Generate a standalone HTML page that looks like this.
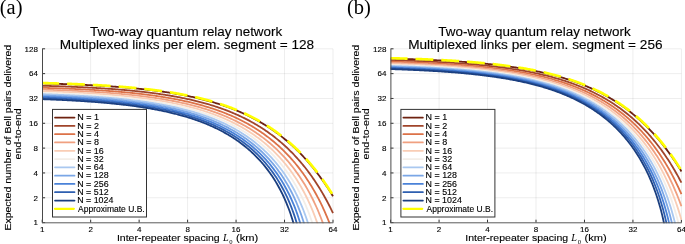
<!DOCTYPE html>
<html><head><meta charset="utf-8"><style>
html,body{margin:0;padding:0;background:#fff;}
svg{display:block;will-change:transform;font-family:"Liberation Sans",sans-serif;}
text{stroke:#000;stroke-width:0.12px;}
text.s{stroke:none;}
</style></head><body>
<svg width="685" height="244" viewBox="0 0 685 244">
<defs><clipPath id="clip"><rect x="40.70" y="47.80" width="293.80" height="175.40"/></clipPath></defs>
<rect width="685" height="244" fill="#fff"/>
<g><g stroke="#000" stroke-opacity="0.07" stroke-width="1"><line x1="90.67" y1="48.80" x2="90.67" y2="222.60"/><line x1="139.13" y1="48.80" x2="139.13" y2="222.60"/><line x1="187.60" y1="48.80" x2="187.60" y2="222.60"/><line x1="236.07" y1="48.80" x2="236.07" y2="222.60"/><line x1="284.53" y1="48.80" x2="284.53" y2="222.60"/><line x1="333.00" y1="48.80" x2="333.00" y2="222.60"/><line x1="42.20" y1="197.77" x2="333.00" y2="197.77"/><line x1="42.20" y1="172.94" x2="333.00" y2="172.94"/><line x1="42.20" y1="148.11" x2="333.00" y2="148.11"/><line x1="42.20" y1="123.29" x2="333.00" y2="123.29"/><line x1="42.20" y1="98.46" x2="333.00" y2="98.46"/><line x1="42.20" y1="73.63" x2="333.00" y2="73.63"/><line x1="42.20" y1="48.80" x2="333.00" y2="48.80"/></g>
<g stroke="#333" stroke-width="1"><line x1="42.20" y1="222.60" x2="42.20" y2="219.70"/><line x1="90.67" y1="222.60" x2="90.67" y2="219.70"/><line x1="139.13" y1="222.60" x2="139.13" y2="219.70"/><line x1="187.60" y1="222.60" x2="187.60" y2="219.70"/><line x1="236.07" y1="222.60" x2="236.07" y2="219.70"/><line x1="284.53" y1="222.60" x2="284.53" y2="219.70"/><line x1="333.00" y1="222.60" x2="333.00" y2="219.70"/><line x1="42.20" y1="222.60" x2="45.10" y2="222.60"/><line x1="42.20" y1="197.77" x2="45.10" y2="197.77"/><line x1="42.20" y1="172.94" x2="45.10" y2="172.94"/><line x1="42.20" y1="148.11" x2="45.10" y2="148.11"/><line x1="42.20" y1="123.29" x2="45.10" y2="123.29"/><line x1="42.20" y1="98.46" x2="45.10" y2="98.46"/><line x1="42.20" y1="73.63" x2="45.10" y2="73.63"/><line x1="42.20" y1="48.80" x2="45.10" y2="48.80"/></g>
<g clip-path="url(#clip)" fill="none" stroke-linejoin="round">
<path d="M42.20,83.41 L43.17,83.44 L44.14,83.46 L45.11,83.49 L46.08,83.51 L47.05,83.54 L48.02,83.57 L48.99,83.60 L49.95,83.62 L50.92,83.65 L51.89,83.68 L52.86,83.71 L53.83,83.74 L54.80,83.77 L55.77,83.80 L56.74,83.83 L57.71,83.86 L58.68,83.89 L59.65,83.92 L60.62,83.95 L61.59,83.98 L62.56,84.02 L63.53,84.05 L64.49,84.09 L65.46,84.12 L66.43,84.15 L67.40,84.19 L68.37,84.23 L69.34,84.26 L70.31,84.30 L71.28,84.34 L72.25,84.37 L73.22,84.41 L74.19,84.45 L75.16,84.49 L76.13,84.53 L77.10,84.57 L78.07,84.61 L79.03,84.65 L80.00,84.70 L80.97,84.74 L81.94,84.78 L82.91,84.83 L83.88,84.87 L84.85,84.92 L85.82,84.96 L86.79,85.01 L87.76,85.06 L88.73,85.11 L89.70,85.15 L90.67,85.20 L91.64,85.25 L92.61,85.30 L93.57,85.36 L94.54,85.41 L95.51,85.46 L96.48,85.51 L97.45,85.57 L98.42,85.62 L99.39,85.68 L100.36,85.74 L101.33,85.79 L102.30,85.85 L103.27,85.91 L104.24,85.97 L105.21,86.03 L106.18,86.09 L107.15,86.16 L108.11,86.22 L109.08,86.28 L110.05,86.35 L111.02,86.41 L111.99,86.48 L112.96,86.55 L113.93,86.62 L114.90,86.69 L115.87,86.76 L116.84,86.83 L117.81,86.90 L118.78,86.98 L119.75,87.05 L120.72,87.13 L121.69,87.20 L122.65,87.28 L123.62,87.36 L124.59,87.44 L125.56,87.52 L126.53,87.60 L127.50,87.69 L128.47,87.77 L129.44,87.86 L130.41,87.95 L131.38,88.03 L132.35,88.12 L133.32,88.21 L134.29,88.31 L135.26,88.40 L136.23,88.49 L137.19,88.59 L138.16,88.69 L139.13,88.79 L140.10,88.89 L141.07,88.99 L142.04,89.09 L143.01,89.19 L143.98,89.30 L144.95,89.41 L145.92,89.52 L146.89,89.63 L147.86,89.74 L148.83,89.85 L149.80,89.97 L150.77,90.08 L151.73,90.20 L152.70,90.32 L153.67,90.44 L154.64,90.56 L155.61,90.69 L156.58,90.82 L157.55,90.94 L158.52,91.07 L159.49,91.21 L160.46,91.34 L161.43,91.48 L162.40,91.61 L163.37,91.75 L164.34,91.89 L165.31,92.04 L166.27,92.18 L167.24,92.33 L168.21,92.48 L169.18,92.63 L170.15,92.79 L171.12,92.94 L172.09,93.10 L173.06,93.26 L174.03,93.42 L175.00,93.59 L175.97,93.75 L176.94,93.92 L177.91,94.09 L178.88,94.27 L179.85,94.45 L180.81,94.62 L181.78,94.81 L182.75,94.99 L183.72,95.18 L184.69,95.37 L185.66,95.56 L186.63,95.75 L187.60,95.95 L188.57,96.15 L189.54,96.35 L190.51,96.56 L191.48,96.77 L192.45,96.98 L193.42,97.19 L194.39,97.41 L195.35,97.63 L196.32,97.85 L197.29,98.08 L198.26,98.31 L199.23,98.54 L200.20,98.78 L201.17,99.02 L202.14,99.26 L203.11,99.51 L204.08,99.76 L205.05,100.01 L206.02,100.27 L206.99,100.53 L207.96,100.79 L208.93,101.06 L209.89,101.33 L210.86,101.61 L211.83,101.88 L212.80,102.17 L213.77,102.45 L214.74,102.74 L215.71,103.04 L216.68,103.34 L217.65,103.64 L218.62,103.95 L219.59,104.26 L220.56,104.58 L221.53,104.90 L222.50,105.22 L223.47,105.55 L224.43,105.89 L225.40,106.22 L226.37,106.57 L227.34,106.92 L228.31,107.27 L229.28,107.63 L230.25,107.99 L231.22,108.36 L232.19,108.73 L233.16,109.11 L234.13,109.49 L235.10,109.88 L236.07,110.28 L237.04,110.68 L238.01,111.08 L238.97,111.49 L239.94,111.91 L240.91,112.33 L241.88,112.76 L242.85,113.20 L243.82,113.64 L244.79,114.09 L245.76,114.54 L246.73,115.00 L247.70,115.46 L248.67,115.94 L249.64,116.42 L250.61,116.90 L251.58,117.39 L252.55,117.89 L253.51,118.40 L254.48,118.91 L255.45,119.43 L256.42,119.96 L257.39,120.50 L258.36,121.04 L259.33,121.59 L260.30,122.15 L261.27,122.71 L262.24,123.29 L263.21,123.87 L264.18,124.46 L265.15,125.06 L266.12,125.66 L267.09,126.28 L268.05,126.90 L269.02,127.53 L269.99,128.17 L270.96,128.82 L271.93,129.48 L272.90,130.15 L273.87,130.83 L274.84,131.51 L275.81,132.21 L276.78,132.92 L277.75,133.63 L278.72,134.36 L279.69,135.10 L280.66,135.84 L281.63,136.60 L282.59,137.37 L283.56,138.14 L284.53,138.93 L285.50,139.73 L286.47,140.54 L287.44,141.37 L288.41,142.20 L289.38,143.05 L290.35,143.90 L291.32,144.77 L292.29,145.66 L293.26,146.55 L294.23,147.46 L295.20,148.37 L296.17,149.31 L297.13,150.25 L298.10,151.21 L299.07,152.18 L300.04,153.17 L301.01,154.16 L301.98,155.18 L302.95,156.20 L303.92,157.25 L304.89,158.30 L305.86,159.37 L306.83,160.46 L307.80,161.56 L308.77,162.67 L309.74,163.80 L310.71,164.95 L311.67,166.12 L312.64,167.29 L313.61,168.49 L314.58,169.70 L315.55,170.93 L316.52,172.18 L317.49,173.44 L318.46,174.73 L319.43,176.03 L320.40,177.34 L321.37,178.68 L322.34,180.03 L323.31,181.41 L324.28,182.80 L325.25,184.21 L326.21,185.65 L327.18,187.10 L328.15,188.57 L329.12,190.06 L330.09,191.58 L331.06,193.11 L332.03,194.67 L333.00,196.25" stroke="#6e2210" stroke-width="1.80"/>
<path d="M42.20,85.76 L43.17,85.79 L44.14,85.82 L45.11,85.85 L46.08,85.87 L47.05,85.90 L48.02,85.93 L48.99,85.96 L49.95,85.99 L50.92,86.02 L51.89,86.05 L52.86,86.08 L53.83,86.11 L54.80,86.14 L55.77,86.17 L56.74,86.20 L57.71,86.23 L58.68,86.27 L59.65,86.30 L60.62,86.33 L61.59,86.37 L62.56,86.40 L63.53,86.44 L64.49,86.47 L65.46,86.51 L66.43,86.55 L67.40,86.58 L68.37,86.62 L69.34,86.66 L70.31,86.70 L71.28,86.74 L72.25,86.78 L73.22,86.82 L74.19,86.86 L75.16,86.90 L76.13,86.94 L77.10,86.99 L78.07,87.03 L79.03,87.08 L80.00,87.12 L80.97,87.17 L81.94,87.21 L82.91,87.26 L83.88,87.30 L84.85,87.35 L85.82,87.40 L86.79,87.45 L87.76,87.50 L88.73,87.55 L89.70,87.60 L90.67,87.65 L91.64,87.71 L92.61,87.76 L93.57,87.82 L94.54,87.87 L95.51,87.93 L96.48,87.98 L97.45,88.04 L98.42,88.10 L99.39,88.16 L100.36,88.22 L101.33,88.28 L102.30,88.34 L103.27,88.40 L104.24,88.46 L105.21,88.53 L106.18,88.59 L107.15,88.66 L108.11,88.73 L109.08,88.79 L110.05,88.86 L111.02,88.93 L111.99,89.00 L112.96,89.07 L113.93,89.15 L114.90,89.22 L115.87,89.30 L116.84,89.37 L117.81,89.45 L118.78,89.53 L119.75,89.61 L120.72,89.69 L121.69,89.77 L122.65,89.85 L123.62,89.93 L124.59,90.02 L125.56,90.10 L126.53,90.19 L127.50,90.28 L128.47,90.37 L129.44,90.46 L130.41,90.55 L131.38,90.64 L132.35,90.74 L133.32,90.83 L134.29,90.93 L135.26,91.03 L136.23,91.13 L137.19,91.23 L138.16,91.33 L139.13,91.44 L140.10,91.54 L141.07,91.65 L142.04,91.76 L143.01,91.87 L143.98,91.98 L144.95,92.09 L145.92,92.21 L146.89,92.33 L147.86,92.44 L148.83,92.56 L149.80,92.69 L150.77,92.81 L151.73,92.93 L152.70,93.06 L153.67,93.19 L154.64,93.32 L155.61,93.45 L156.58,93.59 L157.55,93.72 L158.52,93.86 L159.49,94.00 L160.46,94.14 L161.43,94.28 L162.40,94.43 L163.37,94.58 L164.34,94.73 L165.31,94.88 L166.27,95.03 L167.24,95.19 L168.21,95.35 L169.18,95.51 L170.15,95.67 L171.12,95.84 L172.09,96.00 L173.06,96.17 L174.03,96.34 L175.00,96.52 L175.97,96.70 L176.94,96.88 L177.91,97.06 L178.88,97.24 L179.85,97.43 L180.81,97.62 L181.78,97.81 L182.75,98.01 L183.72,98.20 L184.69,98.41 L185.66,98.61 L186.63,98.82 L187.60,99.02 L188.57,99.24 L189.54,99.45 L190.51,99.67 L191.48,99.89 L192.45,100.12 L193.42,100.34 L194.39,100.57 L195.35,100.81 L196.32,101.05 L197.29,101.29 L198.26,101.53 L199.23,101.78 L200.20,102.03 L201.17,102.28 L202.14,102.54 L203.11,102.80 L204.08,103.07 L205.05,103.34 L206.02,103.61 L206.99,103.89 L207.96,104.17 L208.93,104.45 L209.89,104.74 L210.86,105.04 L211.83,105.33 L212.80,105.64 L213.77,105.94 L214.74,106.25 L215.71,106.57 L216.68,106.88 L217.65,107.21 L218.62,107.54 L219.59,107.87 L220.56,108.20 L221.53,108.55 L222.50,108.89 L223.47,109.25 L224.43,109.60 L225.40,109.96 L226.37,110.33 L227.34,110.70 L228.31,111.08 L229.28,111.46 L230.25,111.85 L231.22,112.25 L232.19,112.65 L233.16,113.05 L234.13,113.46 L235.10,113.88 L236.07,114.30 L237.04,114.73 L238.01,115.17 L238.97,115.61 L239.94,116.06 L240.91,116.51 L241.88,116.97 L242.85,117.44 L243.82,117.91 L244.79,118.39 L245.76,118.88 L246.73,119.37 L247.70,119.88 L248.67,120.39 L249.64,120.90 L250.61,121.43 L251.58,121.96 L252.55,122.50 L253.51,123.04 L254.48,123.60 L255.45,124.16 L256.42,124.73 L257.39,125.31 L258.36,125.90 L259.33,126.49 L260.30,127.10 L261.27,127.71 L262.24,128.34 L263.21,128.97 L264.18,129.61 L265.15,130.26 L266.12,130.92 L267.09,131.59 L268.05,132.27 L269.02,132.96 L269.99,133.66 L270.96,134.37 L271.93,135.09 L272.90,135.82 L273.87,136.56 L274.84,137.31 L275.81,138.08 L276.78,138.85 L277.75,139.64 L278.72,140.44 L279.69,141.25 L280.66,142.07 L281.63,142.91 L282.59,143.76 L283.56,144.62 L284.53,145.49 L285.50,146.38 L286.47,147.28 L287.44,148.19 L288.41,149.12 L289.38,150.06 L290.35,151.02 L291.32,151.99 L292.29,152.98 L293.26,153.98 L294.23,155.00 L295.20,156.03 L296.17,157.08 L297.13,158.15 L298.10,159.23 L299.07,160.33 L300.04,161.44 L301.01,162.58 L301.98,163.73 L302.95,164.90 L303.92,166.09 L304.89,167.30 L305.86,168.53 L306.83,169.78 L307.80,171.05 L308.77,172.34 L309.74,173.65 L310.71,174.99 L311.67,176.34 L312.64,177.72 L313.61,179.12 L314.58,180.55 L315.55,182.00 L316.52,183.47 L317.49,184.98 L318.46,186.50 L319.43,188.06 L320.40,189.64 L321.37,191.25 L322.34,192.89 L323.31,194.56 L324.28,196.26 L325.25,197.99 L326.21,199.75 L327.18,201.55 L328.15,203.38 L329.12,205.25 L330.09,207.16 L331.06,209.10 L332.03,211.08 L333.00,213.10" stroke="#a0442a" stroke-width="1.80"/>
<path d="M42.20,87.81 L43.17,87.84 L44.14,87.86 L45.11,87.89 L46.08,87.92 L47.05,87.95 L48.02,87.98 L48.99,88.01 L49.95,88.04 L50.92,88.07 L51.89,88.10 L52.86,88.13 L53.83,88.17 L54.80,88.20 L55.77,88.23 L56.74,88.27 L57.71,88.30 L58.68,88.33 L59.65,88.37 L60.62,88.40 L61.59,88.44 L62.56,88.48 L63.53,88.51 L64.49,88.55 L65.46,88.59 L66.43,88.63 L67.40,88.67 L68.37,88.71 L69.34,88.75 L70.31,88.79 L71.28,88.83 L72.25,88.87 L73.22,88.91 L74.19,88.96 L75.16,89.00 L76.13,89.04 L77.10,89.09 L78.07,89.13 L79.03,89.18 L80.00,89.23 L80.97,89.27 L81.94,89.32 L82.91,89.37 L83.88,89.42 L84.85,89.47 L85.82,89.52 L86.79,89.57 L87.76,89.63 L88.73,89.68 L89.70,89.73 L90.67,89.79 L91.64,89.84 L92.61,89.90 L93.57,89.96 L94.54,90.01 L95.51,90.07 L96.48,90.13 L97.45,90.19 L98.42,90.25 L99.39,90.31 L100.36,90.38 L101.33,90.44 L102.30,90.50 L103.27,90.57 L104.24,90.64 L105.21,90.70 L106.18,90.77 L107.15,90.84 L108.11,90.91 L109.08,90.98 L110.05,91.05 L111.02,91.13 L111.99,91.20 L112.96,91.27 L113.93,91.35 L114.90,91.43 L115.87,91.51 L116.84,91.59 L117.81,91.67 L118.78,91.75 L119.75,91.83 L120.72,91.91 L121.69,92.00 L122.65,92.09 L123.62,92.17 L124.59,92.26 L125.56,92.35 L126.53,92.44 L127.50,92.53 L128.47,92.63 L129.44,92.72 L130.41,92.82 L131.38,92.92 L132.35,93.02 L133.32,93.12 L134.29,93.22 L135.26,93.32 L136.23,93.43 L137.19,93.53 L138.16,93.64 L139.13,93.75 L140.10,93.86 L141.07,93.97 L142.04,94.09 L143.01,94.20 L143.98,94.32 L144.95,94.44 L145.92,94.56 L146.89,94.68 L147.86,94.81 L148.83,94.93 L149.80,95.06 L150.77,95.19 L151.73,95.32 L152.70,95.45 L153.67,95.59 L154.64,95.72 L155.61,95.86 L156.58,96.00 L157.55,96.15 L158.52,96.29 L159.49,96.44 L160.46,96.59 L161.43,96.74 L162.40,96.89 L163.37,97.05 L164.34,97.20 L165.31,97.36 L166.27,97.52 L167.24,97.69 L168.21,97.85 L169.18,98.02 L170.15,98.19 L171.12,98.37 L172.09,98.54 L173.06,98.72 L174.03,98.90 L175.00,99.09 L175.97,99.27 L176.94,99.46 L177.91,99.65 L178.88,99.85 L179.85,100.04 L180.81,100.24 L181.78,100.45 L182.75,100.65 L183.72,100.86 L184.69,101.07 L185.66,101.28 L186.63,101.50 L187.60,101.72 L188.57,101.95 L189.54,102.17 L190.51,102.40 L191.48,102.63 L192.45,102.87 L193.42,103.11 L194.39,103.35 L195.35,103.60 L196.32,103.85 L197.29,104.10 L198.26,104.36 L199.23,104.62 L200.20,104.89 L201.17,105.16 L202.14,105.43 L203.11,105.70 L204.08,105.99 L205.05,106.27 L206.02,106.56 L206.99,106.85 L207.96,107.15 L208.93,107.45 L209.89,107.75 L210.86,108.06 L211.83,108.38 L212.80,108.69 L213.77,109.02 L214.74,109.35 L215.71,109.68 L216.68,110.01 L217.65,110.36 L218.62,110.70 L219.59,111.06 L220.56,111.41 L221.53,111.77 L222.50,112.14 L223.47,112.52 L224.43,112.89 L225.40,113.28 L226.37,113.67 L227.34,114.06 L228.31,114.46 L229.28,114.87 L230.25,115.28 L231.22,115.70 L232.19,116.12 L233.16,116.55 L234.13,116.99 L235.10,117.43 L236.07,117.88 L237.04,118.34 L238.01,118.80 L238.97,119.27 L239.94,119.75 L240.91,120.23 L241.88,120.72 L242.85,121.22 L243.82,121.73 L244.79,122.24 L245.76,122.76 L246.73,123.29 L247.70,123.83 L248.67,124.37 L249.64,124.92 L250.61,125.48 L251.58,126.05 L252.55,126.63 L253.51,127.22 L254.48,127.81 L255.45,128.41 L256.42,129.03 L257.39,129.65 L258.36,130.28 L259.33,130.92 L260.30,131.57 L261.27,132.23 L262.24,132.91 L263.21,133.59 L264.18,134.28 L265.15,134.98 L266.12,135.69 L267.09,136.42 L268.05,137.15 L269.02,137.90 L269.99,138.66 L270.96,139.43 L271.93,140.21 L272.90,141.00 L273.87,141.81 L274.84,142.63 L275.81,143.46 L276.78,144.31 L277.75,145.17 L278.72,146.04 L279.69,146.93 L280.66,147.83 L281.63,148.75 L282.59,149.68 L283.56,150.62 L284.53,151.59 L285.50,152.56 L286.47,153.56 L287.44,154.57 L288.41,155.60 L289.38,156.64 L290.35,157.70 L291.32,158.78 L292.29,159.88 L293.26,161.00 L294.23,162.14 L295.20,163.29 L296.17,164.47 L297.13,165.67 L298.10,166.89 L299.07,168.13 L300.04,169.39 L301.01,170.68 L301.98,171.99 L302.95,173.33 L303.92,174.68 L304.89,176.07 L305.86,177.48 L306.83,178.92 L307.80,180.39 L308.77,181.88 L309.74,183.41 L310.71,184.96 L311.67,186.55 L312.64,188.17 L313.61,189.83 L314.58,191.51 L315.55,193.24 L316.52,195.00 L317.49,196.81 L318.46,198.65 L319.43,200.53 L320.40,202.46 L321.37,204.44 L322.34,206.46 L323.31,208.53 L324.28,210.66 L325.25,212.83 L326.21,215.07 L327.18,217.37 L328.15,219.72 L329.12,222.15 L330.09,224.64 L331.06,227.21 L332.03,229.86" stroke="#dc7248" stroke-width="1.80"/>
<path d="M42.20,89.62 L43.17,89.65 L44.14,89.68 L45.11,89.71 L46.08,89.74 L47.05,89.77 L48.02,89.80 L48.99,89.83 L49.95,89.86 L50.92,89.90 L51.89,89.93 L52.86,89.96 L53.83,89.99 L54.80,90.03 L55.77,90.06 L56.74,90.10 L57.71,90.13 L58.68,90.17 L59.65,90.20 L60.62,90.24 L61.59,90.28 L62.56,90.32 L63.53,90.36 L64.49,90.39 L65.46,90.43 L66.43,90.47 L67.40,90.51 L68.37,90.56 L69.34,90.60 L70.31,90.64 L71.28,90.68 L72.25,90.73 L73.22,90.77 L74.19,90.82 L75.16,90.86 L76.13,90.91 L77.10,90.95 L78.07,91.00 L79.03,91.05 L80.00,91.10 L80.97,91.15 L81.94,91.20 L82.91,91.25 L83.88,91.30 L84.85,91.35 L85.82,91.40 L86.79,91.46 L87.76,91.51 L88.73,91.57 L89.70,91.62 L90.67,91.68 L91.64,91.74 L92.61,91.80 L93.57,91.85 L94.54,91.91 L95.51,91.98 L96.48,92.04 L97.45,92.10 L98.42,92.16 L99.39,92.23 L100.36,92.29 L101.33,92.36 L102.30,92.43 L103.27,92.49 L104.24,92.56 L105.21,92.63 L106.18,92.70 L107.15,92.78 L108.11,92.85 L109.08,92.92 L110.05,93.00 L111.02,93.07 L111.99,93.15 L112.96,93.23 L113.93,93.31 L114.90,93.39 L115.87,93.47 L116.84,93.55 L117.81,93.64 L118.78,93.72 L119.75,93.81 L120.72,93.89 L121.69,93.98 L122.65,94.07 L123.62,94.16 L124.59,94.26 L125.56,94.35 L126.53,94.45 L127.50,94.54 L128.47,94.64 L129.44,94.74 L130.41,94.84 L131.38,94.94 L132.35,95.04 L133.32,95.15 L134.29,95.26 L135.26,95.36 L136.23,95.47 L137.19,95.58 L138.16,95.70 L139.13,95.81 L140.10,95.93 L141.07,96.04 L142.04,96.16 L143.01,96.28 L143.98,96.40 L144.95,96.53 L145.92,96.65 L146.89,96.78 L147.86,96.91 L148.83,97.04 L149.80,97.17 L150.77,97.31 L151.73,97.45 L152.70,97.59 L153.67,97.73 L154.64,97.87 L155.61,98.01 L156.58,98.16 L157.55,98.31 L158.52,98.46 L159.49,98.61 L160.46,98.77 L161.43,98.93 L162.40,99.08 L163.37,99.25 L164.34,99.41 L165.31,99.58 L166.27,99.75 L167.24,99.92 L168.21,100.09 L169.18,100.27 L170.15,100.45 L171.12,100.63 L172.09,100.81 L173.06,101.00 L174.03,101.19 L175.00,101.38 L175.97,101.57 L176.94,101.77 L177.91,101.97 L178.88,102.17 L179.85,102.38 L180.81,102.59 L181.78,102.80 L182.75,103.01 L183.72,103.23 L184.69,103.45 L185.66,103.68 L186.63,103.90 L187.60,104.14 L188.57,104.37 L189.54,104.61 L190.51,104.85 L191.48,105.09 L192.45,105.34 L193.42,105.59 L194.39,105.84 L195.35,106.10 L196.32,106.36 L197.29,106.63 L198.26,106.90 L199.23,107.17 L200.20,107.45 L201.17,107.73 L202.14,108.02 L203.11,108.31 L204.08,108.60 L205.05,108.90 L206.02,109.20 L206.99,109.51 L207.96,109.82 L208.93,110.14 L209.89,110.46 L210.86,110.78 L211.83,111.11 L212.80,111.45 L213.77,111.79 L214.74,112.13 L215.71,112.48 L216.68,112.83 L217.65,113.19 L218.62,113.56 L219.59,113.93 L220.56,114.31 L221.53,114.69 L222.50,115.07 L223.47,115.47 L224.43,115.87 L225.40,116.27 L226.37,116.68 L227.34,117.10 L228.31,117.52 L229.28,117.95 L230.25,118.38 L231.22,118.82 L232.19,119.27 L233.16,119.73 L234.13,120.19 L235.10,120.66 L236.07,121.13 L237.04,121.62 L238.01,122.11 L238.97,122.60 L239.94,123.11 L240.91,123.62 L241.88,124.14 L242.85,124.67 L243.82,125.21 L244.79,125.75 L245.76,126.30 L246.73,126.86 L247.70,127.43 L248.67,128.01 L249.64,128.60 L250.61,129.20 L251.58,129.80 L252.55,130.42 L253.51,131.04 L254.48,131.67 L255.45,132.32 L256.42,132.97 L257.39,133.64 L258.36,134.31 L259.33,135.00 L260.30,135.70 L261.27,136.40 L262.24,137.12 L263.21,137.85 L264.18,138.59 L265.15,139.35 L266.12,140.11 L267.09,140.89 L268.05,141.69 L269.02,142.49 L269.99,143.31 L270.96,144.14 L271.93,144.98 L272.90,145.84 L273.87,146.72 L274.84,147.60 L275.81,148.51 L276.78,149.43 L277.75,150.36 L278.72,151.31 L279.69,152.28 L280.66,153.26 L281.63,154.26 L282.59,155.28 L283.56,156.32 L284.53,157.37 L285.50,158.44 L286.47,159.54 L287.44,160.65 L288.41,161.79 L289.38,162.94 L290.35,164.12 L291.32,165.32 L292.29,166.54 L293.26,167.78 L294.23,169.05 L295.20,170.34 L296.17,171.66 L297.13,173.01 L298.10,174.38 L299.07,175.79 L300.04,177.22 L301.01,178.68 L301.98,180.17 L302.95,181.69 L303.92,183.25 L304.89,184.84 L305.86,186.47 L306.83,188.14 L307.80,189.84 L308.77,191.59 L309.74,193.37 L310.71,195.21 L311.67,197.08 L312.64,199.01 L313.61,200.99 L314.58,203.02 L315.55,205.10 L316.52,207.25 L317.49,209.45 L318.46,211.73 L319.43,214.07 L320.40,216.49 L321.37,218.98 L322.34,221.56 L323.31,224.23 L324.28,226.99 L325.25,229.86" stroke="#f0a080" stroke-width="1.80"/>
<path d="M42.20,91.26 L43.17,91.29 L44.14,91.32 L45.11,91.35 L46.08,91.38 L47.05,91.41 L48.02,91.45 L48.99,91.48 L49.95,91.51 L50.92,91.54 L51.89,91.58 L52.86,91.61 L53.83,91.65 L54.80,91.68 L55.77,91.72 L56.74,91.75 L57.71,91.79 L58.68,91.83 L59.65,91.86 L60.62,91.90 L61.59,91.94 L62.56,91.98 L63.53,92.02 L64.49,92.06 L65.46,92.10 L66.43,92.14 L67.40,92.19 L68.37,92.23 L69.34,92.27 L70.31,92.32 L71.28,92.36 L72.25,92.40 L73.22,92.45 L74.19,92.50 L75.16,92.54 L76.13,92.59 L77.10,92.64 L78.07,92.69 L79.03,92.74 L80.00,92.79 L80.97,92.84 L81.94,92.89 L82.91,92.95 L83.88,93.00 L84.85,93.05 L85.82,93.11 L86.79,93.16 L87.76,93.22 L88.73,93.28 L89.70,93.33 L90.67,93.39 L91.64,93.45 L92.61,93.51 L93.57,93.57 L94.54,93.64 L95.51,93.70 L96.48,93.76 L97.45,93.83 L98.42,93.89 L99.39,93.96 L100.36,94.03 L101.33,94.10 L102.30,94.17 L103.27,94.24 L104.24,94.31 L105.21,94.38 L106.18,94.45 L107.15,94.53 L108.11,94.60 L109.08,94.68 L110.05,94.76 L111.02,94.84 L111.99,94.92 L112.96,95.00 L113.93,95.08 L114.90,95.16 L115.87,95.25 L116.84,95.33 L117.81,95.42 L118.78,95.51 L119.75,95.60 L120.72,95.69 L121.69,95.78 L122.65,95.88 L123.62,95.97 L124.59,96.07 L125.56,96.16 L126.53,96.26 L127.50,96.36 L128.47,96.46 L129.44,96.57 L130.41,96.67 L131.38,96.78 L132.35,96.88 L133.32,96.99 L134.29,97.10 L135.26,97.21 L136.23,97.33 L137.19,97.44 L138.16,97.56 L139.13,97.68 L140.10,97.80 L141.07,97.92 L142.04,98.04 L143.01,98.17 L143.98,98.29 L144.95,98.42 L145.92,98.55 L146.89,98.69 L147.86,98.82 L148.83,98.96 L149.80,99.09 L150.77,99.24 L151.73,99.38 L152.70,99.52 L153.67,99.67 L154.64,99.82 L155.61,99.97 L156.58,100.12 L157.55,100.27 L158.52,100.43 L159.49,100.59 L160.46,100.75 L161.43,100.91 L162.40,101.08 L163.37,101.25 L164.34,101.42 L165.31,101.59 L166.27,101.77 L167.24,101.95 L168.21,102.13 L169.18,102.31 L170.15,102.50 L171.12,102.68 L172.09,102.88 L173.06,103.07 L174.03,103.27 L175.00,103.47 L175.97,103.67 L176.94,103.87 L177.91,104.08 L178.88,104.29 L179.85,104.51 L180.81,104.72 L181.78,104.94 L182.75,105.17 L183.72,105.40 L184.69,105.63 L185.66,105.86 L186.63,106.10 L187.60,106.34 L188.57,106.58 L189.54,106.83 L190.51,107.08 L191.48,107.33 L192.45,107.59 L193.42,107.85 L194.39,108.12 L195.35,108.39 L196.32,108.66 L197.29,108.94 L198.26,109.22 L199.23,109.51 L200.20,109.80 L201.17,110.09 L202.14,110.39 L203.11,110.69 L204.08,111.00 L205.05,111.31 L206.02,111.62 L206.99,111.95 L207.96,112.27 L208.93,112.60 L209.89,112.94 L210.86,113.28 L211.83,113.62 L212.80,113.97 L213.77,114.33 L214.74,114.69 L215.71,115.05 L216.68,115.42 L217.65,115.80 L218.62,116.18 L219.59,116.57 L220.56,116.96 L221.53,117.36 L222.50,117.77 L223.47,118.18 L224.43,118.60 L225.40,119.02 L226.37,119.46 L227.34,119.89 L228.31,120.34 L229.28,120.79 L230.25,121.24 L231.22,121.71 L232.19,122.18 L233.16,122.66 L234.13,123.14 L235.10,123.64 L236.07,124.14 L237.04,124.65 L238.01,125.16 L238.97,125.69 L239.94,126.22 L240.91,126.76 L241.88,127.31 L242.85,127.87 L243.82,128.43 L244.79,129.01 L245.76,129.59 L246.73,130.19 L247.70,130.79 L248.67,131.40 L249.64,132.02 L250.61,132.66 L251.58,133.30 L252.55,133.95 L253.51,134.61 L254.48,135.29 L255.45,135.97 L256.42,136.67 L257.39,137.37 L258.36,138.09 L259.33,138.82 L260.30,139.57 L261.27,140.32 L262.24,141.09 L263.21,141.87 L264.18,142.66 L265.15,143.47 L266.12,144.29 L267.09,145.12 L268.05,145.97 L269.02,146.84 L269.99,147.72 L270.96,148.61 L271.93,149.52 L272.90,150.45 L273.87,151.39 L274.84,152.35 L275.81,153.33 L276.78,154.32 L277.75,155.33 L278.72,156.36 L279.69,157.42 L280.66,158.49 L281.63,159.58 L282.59,160.69 L283.56,161.82 L284.53,162.98 L285.50,164.15 L286.47,165.36 L287.44,166.58 L288.41,167.83 L289.38,169.11 L290.35,170.41 L291.32,171.74 L292.29,173.10 L293.26,174.48 L294.23,175.90 L295.20,177.35 L296.17,178.83 L297.13,180.35 L298.10,181.90 L299.07,183.49 L300.04,185.12 L301.01,186.78 L301.98,188.49 L302.95,190.24 L303.92,192.04 L304.89,193.88 L305.86,195.78 L306.83,197.73 L307.80,199.73 L308.77,201.79 L309.74,203.92 L310.71,206.11 L311.67,208.37 L312.64,210.70 L313.61,213.12 L314.58,215.62 L315.55,218.21 L316.52,220.90 L317.49,223.69 L318.46,226.60 L319.43,229.64" stroke="#f9cdb5" stroke-width="1.80"/>
<path d="M42.20,92.77 L43.17,92.80 L44.14,92.83 L45.11,92.86 L46.08,92.89 L47.05,92.93 L48.02,92.96 L48.99,92.99 L49.95,93.03 L50.92,93.06 L51.89,93.10 L52.86,93.13 L53.83,93.17 L54.80,93.20 L55.77,93.24 L56.74,93.28 L57.71,93.31 L58.68,93.35 L59.65,93.39 L60.62,93.43 L61.59,93.47 L62.56,93.51 L63.53,93.55 L64.49,93.59 L65.46,93.64 L66.43,93.68 L67.40,93.72 L68.37,93.77 L69.34,93.81 L70.31,93.86 L71.28,93.90 L72.25,93.95 L73.22,94.00 L74.19,94.04 L75.16,94.09 L76.13,94.14 L77.10,94.19 L78.07,94.24 L79.03,94.29 L80.00,94.35 L80.97,94.40 L81.94,94.45 L82.91,94.51 L83.88,94.56 L84.85,94.62 L85.82,94.68 L86.79,94.73 L87.76,94.79 L88.73,94.85 L89.70,94.91 L90.67,94.97 L91.64,95.03 L92.61,95.09 L93.57,95.16 L94.54,95.22 L95.51,95.29 L96.48,95.35 L97.45,95.42 L98.42,95.49 L99.39,95.56 L100.36,95.63 L101.33,95.70 L102.30,95.77 L103.27,95.84 L104.24,95.92 L105.21,95.99 L106.18,96.07 L107.15,96.14 L108.11,96.22 L109.08,96.30 L110.05,96.38 L111.02,96.46 L111.99,96.55 L112.96,96.63 L113.93,96.72 L114.90,96.80 L115.87,96.89 L116.84,96.98 L117.81,97.07 L118.78,97.16 L119.75,97.25 L120.72,97.34 L121.69,97.44 L122.65,97.54 L123.62,97.63 L124.59,97.73 L125.56,97.83 L126.53,97.94 L127.50,98.04 L128.47,98.14 L129.44,98.25 L130.41,98.36 L131.38,98.47 L132.35,98.58 L133.32,98.69 L134.29,98.81 L135.26,98.92 L136.23,99.04 L137.19,99.16 L138.16,99.28 L139.13,99.40 L140.10,99.52 L141.07,99.65 L142.04,99.78 L143.01,99.91 L143.98,100.04 L144.95,100.17 L145.92,100.31 L146.89,100.45 L147.86,100.58 L148.83,100.73 L149.80,100.87 L150.77,101.01 L151.73,101.16 L152.70,101.31 L153.67,101.46 L154.64,101.61 L155.61,101.77 L156.58,101.93 L157.55,102.09 L158.52,102.25 L159.49,102.42 L160.46,102.58 L161.43,102.75 L162.40,102.92 L163.37,103.10 L164.34,103.28 L165.31,103.46 L166.27,103.64 L167.24,103.82 L168.21,104.01 L169.18,104.20 L170.15,104.39 L171.12,104.59 L172.09,104.79 L173.06,104.99 L174.03,105.19 L175.00,105.40 L175.97,105.61 L176.94,105.82 L177.91,106.04 L178.88,106.26 L179.85,106.48 L180.81,106.70 L181.78,106.93 L182.75,107.17 L183.72,107.40 L184.69,107.64 L185.66,107.88 L186.63,108.13 L187.60,108.38 L188.57,108.63 L189.54,108.89 L190.51,109.15 L191.48,109.41 L192.45,109.68 L193.42,109.95 L194.39,110.23 L195.35,110.51 L196.32,110.79 L197.29,111.08 L198.26,111.38 L199.23,111.67 L200.20,111.97 L201.17,112.28 L202.14,112.59 L203.11,112.91 L204.08,113.23 L205.05,113.55 L206.02,113.88 L206.99,114.21 L207.96,114.55 L208.93,114.90 L209.89,115.25 L210.86,115.60 L211.83,115.96 L212.80,116.32 L213.77,116.70 L214.74,117.07 L215.71,117.45 L216.68,117.84 L217.65,118.23 L218.62,118.63 L219.59,119.04 L220.56,119.45 L221.53,119.87 L222.50,120.29 L223.47,120.72 L224.43,121.16 L225.40,121.60 L226.37,122.05 L227.34,122.51 L228.31,122.98 L229.28,123.45 L230.25,123.93 L231.22,124.41 L232.19,124.91 L233.16,125.41 L234.13,125.92 L235.10,126.44 L236.07,126.96 L237.04,127.50 L238.01,128.04 L238.97,128.59 L239.94,129.15 L240.91,129.72 L241.88,130.30 L242.85,130.88 L243.82,131.48 L244.79,132.09 L245.76,132.70 L246.73,133.33 L247.70,133.96 L248.67,134.61 L249.64,135.27 L250.61,135.94 L251.58,136.61 L252.55,137.30 L253.51,138.01 L254.48,138.72 L255.45,139.45 L256.42,140.18 L257.39,140.93 L258.36,141.70 L259.33,142.47 L260.30,143.26 L261.27,144.07 L262.24,144.88 L263.21,145.72 L264.18,146.56 L265.15,147.42 L266.12,148.30 L267.09,149.19 L268.05,150.10 L269.02,151.03 L269.99,151.97 L270.96,152.93 L271.93,153.91 L272.90,154.91 L273.87,155.92 L274.84,156.96 L275.81,158.01 L276.78,159.09 L277.75,160.18 L278.72,161.30 L279.69,162.44 L280.66,163.61 L281.63,164.80 L282.59,166.01 L283.56,167.25 L284.53,168.51 L285.50,169.81 L286.47,171.13 L287.44,172.48 L288.41,173.86 L289.38,175.27 L290.35,176.71 L291.32,178.19 L292.29,179.71 L293.26,181.26 L294.23,182.85 L295.20,184.48 L296.17,186.15 L297.13,187.87 L298.10,189.63 L299.07,191.44 L300.04,193.30 L301.01,195.22 L301.98,197.20 L302.95,199.23 L303.92,201.33 L304.89,203.49 L305.86,205.73 L306.83,208.05 L307.80,210.45 L308.77,212.93 L309.74,215.52 L310.71,218.21 L311.67,221.01 L312.64,223.94 L313.61,226.99 L314.58,230.20" stroke="#f3eee8" stroke-width="1.80"/>
<path d="M42.20,94.17 L43.17,94.21 L44.14,94.24 L45.11,94.27 L46.08,94.30 L47.05,94.34 L48.02,94.37 L48.99,94.41 L49.95,94.44 L50.92,94.48 L51.89,94.51 L52.86,94.55 L53.83,94.58 L54.80,94.62 L55.77,94.66 L56.74,94.70 L57.71,94.74 L58.68,94.78 L59.65,94.82 L60.62,94.86 L61.59,94.90 L62.56,94.94 L63.53,94.98 L64.49,95.03 L65.46,95.07 L66.43,95.11 L67.40,95.16 L68.37,95.20 L69.34,95.25 L70.31,95.30 L71.28,95.34 L72.25,95.39 L73.22,95.44 L74.19,95.49 L75.16,95.54 L76.13,95.59 L77.10,95.64 L78.07,95.69 L79.03,95.75 L80.00,95.80 L80.97,95.86 L81.94,95.91 L82.91,95.97 L83.88,96.02 L84.85,96.08 L85.82,96.14 L86.79,96.20 L87.76,96.26 L88.73,96.32 L89.70,96.38 L90.67,96.44 L91.64,96.51 L92.61,96.57 L93.57,96.64 L94.54,96.70 L95.51,96.77 L96.48,96.84 L97.45,96.91 L98.42,96.98 L99.39,97.05 L100.36,97.12 L101.33,97.19 L102.30,97.27 L103.27,97.34 L104.24,97.42 L105.21,97.50 L106.18,97.58 L107.15,97.65 L108.11,97.74 L109.08,97.82 L110.05,97.90 L111.02,97.98 L111.99,98.07 L112.96,98.16 L113.93,98.24 L114.90,98.33 L115.87,98.42 L116.84,98.51 L117.81,98.61 L118.78,98.70 L119.75,98.80 L120.72,98.89 L121.69,98.99 L122.65,99.09 L123.62,99.19 L124.59,99.29 L125.56,99.40 L126.53,99.50 L127.50,99.61 L128.47,99.72 L129.44,99.83 L130.41,99.94 L131.38,100.05 L132.35,100.17 L133.32,100.28 L134.29,100.40 L135.26,100.52 L136.23,100.64 L137.19,100.76 L138.16,100.89 L139.13,101.01 L140.10,101.14 L141.07,101.27 L142.04,101.40 L143.01,101.54 L143.98,101.67 L144.95,101.81 L145.92,101.95 L146.89,102.09 L147.86,102.24 L148.83,102.38 L149.80,102.53 L150.77,102.68 L151.73,102.83 L152.70,102.99 L153.67,103.14 L154.64,103.30 L155.61,103.46 L156.58,103.62 L157.55,103.79 L158.52,103.96 L159.49,104.13 L160.46,104.30 L161.43,104.48 L162.40,104.65 L163.37,104.83 L164.34,105.02 L165.31,105.20 L166.27,105.39 L167.24,105.58 L168.21,105.78 L169.18,105.97 L170.15,106.17 L171.12,106.37 L172.09,106.58 L173.06,106.79 L174.03,107.00 L175.00,107.21 L175.97,107.43 L176.94,107.65 L177.91,107.87 L178.88,108.10 L179.85,108.33 L180.81,108.57 L181.78,108.80 L182.75,109.04 L183.72,109.29 L184.69,109.53 L185.66,109.79 L186.63,110.04 L187.60,110.30 L188.57,110.56 L189.54,110.83 L190.51,111.10 L191.48,111.37 L192.45,111.65 L193.42,111.93 L194.39,112.22 L195.35,112.51 L196.32,112.81 L197.29,113.10 L198.26,113.41 L199.23,113.72 L200.20,114.03 L201.17,114.35 L202.14,114.67 L203.11,115.00 L204.08,115.33 L205.05,115.67 L206.02,116.01 L206.99,116.36 L207.96,116.71 L208.93,117.07 L209.89,117.43 L210.86,117.80 L211.83,118.17 L212.80,118.55 L213.77,118.94 L214.74,119.33 L215.71,119.73 L216.68,120.13 L217.65,120.54 L218.62,120.96 L219.59,121.38 L220.56,121.81 L221.53,122.24 L222.50,122.69 L223.47,123.13 L224.43,123.59 L225.40,124.05 L226.37,124.52 L227.34,125.00 L228.31,125.49 L229.28,125.98 L230.25,126.48 L231.22,126.99 L232.19,127.51 L233.16,128.03 L234.13,128.57 L235.10,129.11 L236.07,129.66 L237.04,130.22 L238.01,130.79 L238.97,131.36 L239.94,131.95 L240.91,132.55 L241.88,133.16 L242.85,133.77 L243.82,134.40 L244.79,135.04 L245.76,135.68 L246.73,136.34 L247.70,137.01 L248.67,137.69 L249.64,138.39 L250.61,139.09 L251.58,139.81 L252.55,140.54 L253.51,141.28 L254.48,142.03 L255.45,142.80 L256.42,143.58 L257.39,144.38 L258.36,145.19 L259.33,146.01 L260.30,146.85 L261.27,147.70 L262.24,148.57 L263.21,149.46 L264.18,150.36 L265.15,151.28 L266.12,152.21 L267.09,153.17 L268.05,154.14 L269.02,155.13 L269.99,156.14 L270.96,157.17 L271.93,158.22 L272.90,159.30 L273.87,160.39 L274.84,161.51 L275.81,162.65 L276.78,163.81 L277.75,165.00 L278.72,166.21 L279.69,167.45 L280.66,168.72 L281.63,170.01 L282.59,171.34 L283.56,172.70 L284.53,174.08 L285.50,175.51 L286.47,176.96 L287.44,178.45 L288.41,179.98 L289.38,181.55 L290.35,183.16 L291.32,184.81 L292.29,186.51 L293.26,188.25 L294.23,190.05 L295.20,191.89 L296.17,193.80 L297.13,195.76 L298.10,197.78 L299.07,199.87 L300.04,202.03 L301.01,204.27 L301.98,206.58 L302.95,208.98 L303.92,211.47 L304.89,214.07 L305.86,216.78 L306.83,219.61 L307.80,222.58 L308.77,225.69 L309.74,228.95" stroke="#a9c8f0" stroke-width="1.80"/>
<path d="M42.20,95.50 L43.17,95.54 L44.14,95.57 L45.11,95.60 L46.08,95.64 L47.05,95.67 L48.02,95.71 L48.99,95.74 L49.95,95.78 L50.92,95.81 L51.89,95.85 L52.86,95.89 L53.83,95.92 L54.80,95.96 L55.77,96.00 L56.74,96.04 L57.71,96.08 L58.68,96.12 L59.65,96.16 L60.62,96.21 L61.59,96.25 L62.56,96.29 L63.53,96.33 L64.49,96.38 L65.46,96.42 L66.43,96.47 L67.40,96.51 L68.37,96.56 L69.34,96.61 L70.31,96.66 L71.28,96.71 L72.25,96.76 L73.22,96.81 L74.19,96.86 L75.16,96.91 L76.13,96.96 L77.10,97.01 L78.07,97.07 L79.03,97.12 L80.00,97.18 L80.97,97.23 L81.94,97.29 L82.91,97.35 L83.88,97.40 L84.85,97.46 L85.82,97.52 L86.79,97.59 L87.76,97.65 L88.73,97.71 L89.70,97.77 L90.67,97.84 L91.64,97.90 L92.61,97.97 L93.57,98.04 L94.54,98.10 L95.51,98.17 L96.48,98.24 L97.45,98.31 L98.42,98.39 L99.39,98.46 L100.36,98.53 L101.33,98.61 L102.30,98.69 L103.27,98.76 L104.24,98.84 L105.21,98.92 L106.18,99.00 L107.15,99.08 L108.11,99.17 L109.08,99.25 L110.05,99.34 L111.02,99.42 L111.99,99.51 L112.96,99.60 L113.93,99.69 L114.90,99.78 L115.87,99.87 L116.84,99.97 L117.81,100.06 L118.78,100.16 L119.75,100.26 L120.72,100.36 L121.69,100.46 L122.65,100.56 L123.62,100.66 L124.59,100.77 L125.56,100.88 L126.53,100.99 L127.50,101.10 L128.47,101.21 L129.44,101.32 L130.41,101.43 L131.38,101.55 L132.35,101.67 L133.32,101.79 L134.29,101.91 L135.26,102.03 L136.23,102.16 L137.19,102.28 L138.16,102.41 L139.13,102.54 L140.10,102.68 L141.07,102.81 L142.04,102.95 L143.01,103.08 L143.98,103.22 L144.95,103.36 L145.92,103.51 L146.89,103.65 L147.86,103.80 L148.83,103.95 L149.80,104.11 L150.77,104.26 L151.73,104.42 L152.70,104.58 L153.67,104.74 L154.64,104.90 L155.61,105.07 L156.58,105.23 L157.55,105.41 L158.52,105.58 L159.49,105.75 L160.46,105.93 L161.43,106.11 L162.40,106.30 L163.37,106.48 L164.34,106.67 L165.31,106.86 L166.27,107.06 L167.24,107.25 L168.21,107.45 L169.18,107.66 L170.15,107.86 L171.12,108.07 L172.09,108.28 L173.06,108.50 L174.03,108.72 L175.00,108.94 L175.97,109.16 L176.94,109.39 L177.91,109.62 L178.88,109.86 L179.85,110.09 L180.81,110.34 L181.78,110.58 L182.75,110.83 L183.72,111.08 L184.69,111.34 L185.66,111.60 L186.63,111.86 L187.60,112.13 L188.57,112.40 L189.54,112.68 L190.51,112.96 L191.48,113.24 L192.45,113.53 L193.42,113.82 L194.39,114.12 L195.35,114.42 L196.32,114.72 L197.29,115.03 L198.26,115.35 L199.23,115.67 L200.20,115.99 L201.17,116.32 L202.14,116.66 L203.11,116.99 L204.08,117.34 L205.05,117.69 L206.02,118.04 L206.99,118.40 L207.96,118.77 L208.93,119.14 L209.89,119.52 L210.86,119.90 L211.83,120.29 L212.80,120.68 L213.77,121.08 L214.74,121.49 L215.71,121.90 L216.68,122.32 L217.65,122.75 L218.62,123.18 L219.59,123.62 L220.56,124.07 L221.53,124.52 L222.50,124.98 L223.47,125.45 L224.43,125.93 L225.40,126.41 L226.37,126.90 L227.34,127.40 L228.31,127.90 L229.28,128.42 L230.25,128.94 L231.22,129.47 L232.19,130.01 L233.16,130.56 L234.13,131.12 L235.10,131.69 L236.07,132.26 L237.04,132.85 L238.01,133.44 L238.97,134.05 L239.94,134.66 L240.91,135.29 L241.88,135.92 L242.85,136.57 L243.82,137.23 L244.79,137.90 L245.76,138.58 L246.73,139.27 L247.70,139.98 L248.67,140.69 L249.64,141.42 L250.61,142.16 L251.58,142.92 L252.55,143.69 L253.51,144.47 L254.48,145.27 L255.45,146.08 L256.42,146.91 L257.39,147.75 L258.36,148.61 L259.33,149.48 L260.30,150.37 L261.27,151.28 L262.24,152.20 L263.21,153.14 L264.18,154.10 L265.15,155.08 L266.12,156.08 L267.09,157.10 L268.05,158.14 L269.02,159.20 L269.99,160.29 L270.96,161.39 L271.93,162.52 L272.90,163.68 L273.87,164.85 L274.84,166.06 L275.81,167.29 L276.78,168.55 L277.75,169.84 L278.72,171.16 L279.69,172.51 L280.66,173.89 L281.63,175.31 L282.59,176.76 L283.56,178.25 L284.53,179.78 L285.50,181.35 L286.47,182.96 L287.44,184.62 L288.41,186.32 L289.38,188.07 L290.35,189.88 L291.32,191.73 L292.29,193.65 L293.26,195.63 L294.23,197.67 L295.20,199.79 L296.17,201.98 L297.13,204.25 L298.10,206.61 L299.07,209.05 L300.04,211.59 L301.01,214.25 L301.98,217.03 L302.95,219.96 L303.92,223.04 L304.89,226.28 L305.86,229.66" stroke="#7aa6e6" stroke-width="1.80"/>
<path d="M42.20,96.77 L43.17,96.80 L44.14,96.84 L45.11,96.87 L46.08,96.91 L47.05,96.94 L48.02,96.98 L48.99,97.01 L49.95,97.05 L50.92,97.09 L51.89,97.13 L52.86,97.16 L53.83,97.20 L54.80,97.24 L55.77,97.28 L56.74,97.32 L57.71,97.36 L58.68,97.41 L59.65,97.45 L60.62,97.49 L61.59,97.53 L62.56,97.58 L63.53,97.62 L64.49,97.67 L65.46,97.71 L66.43,97.76 L67.40,97.81 L68.37,97.86 L69.34,97.91 L70.31,97.95 L71.28,98.00 L72.25,98.06 L73.22,98.11 L74.19,98.16 L75.16,98.21 L76.13,98.27 L77.10,98.32 L78.07,98.38 L79.03,98.43 L80.00,98.49 L80.97,98.55 L81.94,98.60 L82.91,98.66 L83.88,98.72 L84.85,98.78 L85.82,98.85 L86.79,98.91 L87.76,98.97 L88.73,99.04 L89.70,99.10 L90.67,99.17 L91.64,99.23 L92.61,99.30 L93.57,99.37 L94.54,99.44 L95.51,99.51 L96.48,99.58 L97.45,99.66 L98.42,99.73 L99.39,99.81 L100.36,99.88 L101.33,99.96 L102.30,100.04 L103.27,100.12 L104.24,100.20 L105.21,100.28 L106.18,100.36 L107.15,100.45 L108.11,100.53 L109.08,100.62 L110.05,100.71 L111.02,100.80 L111.99,100.89 L112.96,100.98 L113.93,101.07 L114.90,101.16 L115.87,101.26 L116.84,101.36 L117.81,101.45 L118.78,101.55 L119.75,101.65 L120.72,101.76 L121.69,101.86 L122.65,101.97 L123.62,102.07 L124.59,102.18 L125.56,102.29 L126.53,102.40 L127.50,102.52 L128.47,102.63 L129.44,102.75 L130.41,102.86 L131.38,102.98 L132.35,103.11 L133.32,103.23 L134.29,103.35 L135.26,103.48 L136.23,103.61 L137.19,103.74 L138.16,103.87 L139.13,104.01 L140.10,104.14 L141.07,104.28 L142.04,104.42 L143.01,104.56 L143.98,104.71 L144.95,104.85 L145.92,105.00 L146.89,105.15 L147.86,105.30 L148.83,105.46 L149.80,105.61 L150.77,105.77 L151.73,105.93 L152.70,106.10 L153.67,106.26 L154.64,106.43 L155.61,106.60 L156.58,106.78 L157.55,106.95 L158.52,107.13 L159.49,107.31 L160.46,107.50 L161.43,107.68 L162.40,107.87 L163.37,108.06 L164.34,108.26 L165.31,108.45 L166.27,108.66 L167.24,108.86 L168.21,109.06 L169.18,109.27 L170.15,109.49 L171.12,109.70 L172.09,109.92 L173.06,110.14 L174.03,110.37 L175.00,110.60 L175.97,110.83 L176.94,111.06 L177.91,111.30 L178.88,111.54 L179.85,111.79 L180.81,112.04 L181.78,112.29 L182.75,112.55 L183.72,112.81 L184.69,113.07 L185.66,113.34 L186.63,113.61 L187.60,113.89 L188.57,114.17 L189.54,114.45 L190.51,114.74 L191.48,115.04 L192.45,115.33 L193.42,115.64 L194.39,115.94 L195.35,116.25 L196.32,116.57 L197.29,116.89 L198.26,117.22 L199.23,117.55 L200.20,117.88 L201.17,118.22 L202.14,118.57 L203.11,118.92 L204.08,119.28 L205.05,119.64 L206.02,120.01 L206.99,120.38 L207.96,120.76 L208.93,121.14 L209.89,121.54 L210.86,121.93 L211.83,122.34 L212.80,122.74 L213.77,123.16 L214.74,123.58 L215.71,124.01 L216.68,124.45 L217.65,124.89 L218.62,125.34 L219.59,125.80 L220.56,126.26 L221.53,126.73 L222.50,127.21 L223.47,127.70 L224.43,128.19 L225.40,128.70 L226.37,129.21 L227.34,129.73 L228.31,130.25 L229.28,130.79 L230.25,131.33 L231.22,131.89 L232.19,132.45 L233.16,133.02 L234.13,133.61 L235.10,134.20 L236.07,134.80 L237.04,135.41 L238.01,136.03 L238.97,136.67 L239.94,137.31 L240.91,137.97 L241.88,138.63 L242.85,139.31 L243.82,140.00 L244.79,140.70 L245.76,141.42 L246.73,142.15 L247.70,142.89 L248.67,143.64 L249.64,144.41 L250.61,145.19 L251.58,145.99 L252.55,146.80 L253.51,147.62 L254.48,148.46 L255.45,149.32 L256.42,150.20 L257.39,151.09 L258.36,151.99 L259.33,152.92 L260.30,153.86 L261.27,154.83 L262.24,155.81 L263.21,156.81 L264.18,157.84 L265.15,158.88 L266.12,159.95 L267.09,161.04 L268.05,162.15 L269.02,163.29 L269.99,164.45 L270.96,165.64 L271.93,166.86 L272.90,168.10 L273.87,169.37 L274.84,170.68 L275.81,172.01 L276.78,173.38 L277.75,174.78 L278.72,176.22 L279.69,177.70 L280.66,179.21 L281.63,180.77 L282.59,182.36 L283.56,184.01 L284.53,185.70 L285.50,187.44 L286.47,189.24 L287.44,191.09 L288.41,192.99 L289.38,194.97 L290.35,197.01 L291.32,199.12 L292.29,201.32 L293.26,203.60 L294.23,205.96 L295.20,208.40 L296.17,210.95 L297.13,213.62 L298.10,216.44 L299.07,219.41 L300.04,222.55 L301.01,225.84 L301.98,229.29" stroke="#4a82d8" stroke-width="1.80"/>
<path d="M42.20,97.99 L43.17,98.02 L44.14,98.06 L45.11,98.09 L46.08,98.13 L47.05,98.16 L48.02,98.20 L48.99,98.24 L49.95,98.28 L50.92,98.31 L51.89,98.35 L52.86,98.39 L53.83,98.43 L54.80,98.47 L55.77,98.51 L56.74,98.55 L57.71,98.60 L58.68,98.64 L59.65,98.68 L60.62,98.73 L61.59,98.77 L62.56,98.82 L63.53,98.86 L64.49,98.91 L65.46,98.96 L66.43,99.00 L67.40,99.05 L68.37,99.10 L69.34,99.15 L70.31,99.20 L71.28,99.25 L72.25,99.31 L73.22,99.36 L74.19,99.41 L75.16,99.47 L76.13,99.52 L77.10,99.58 L78.07,99.63 L79.03,99.69 L80.00,99.75 L80.97,99.81 L81.94,99.87 L82.91,99.93 L83.88,99.99 L84.85,100.05 L85.82,100.12 L86.79,100.18 L87.76,100.25 L88.73,100.31 L89.70,100.38 L90.67,100.45 L91.64,100.52 L92.61,100.59 L93.57,100.66 L94.54,100.73 L95.51,100.80 L96.48,100.87 L97.45,100.95 L98.42,101.03 L99.39,101.10 L100.36,101.18 L101.33,101.26 L102.30,101.34 L103.27,101.42 L104.24,101.51 L105.21,101.59 L106.18,101.67 L107.15,101.76 L108.11,101.85 L109.08,101.94 L110.05,102.03 L111.02,102.12 L111.99,102.21 L112.96,102.30 L113.93,102.40 L114.90,102.50 L115.87,102.59 L116.84,102.69 L117.81,102.79 L118.78,102.90 L119.75,103.00 L120.72,103.11 L121.69,103.21 L122.65,103.32 L123.62,103.43 L124.59,103.54 L125.56,103.65 L126.53,103.77 L127.50,103.89 L128.47,104.00 L129.44,104.12 L130.41,104.24 L131.38,104.37 L132.35,104.49 L133.32,104.62 L134.29,104.75 L135.26,104.88 L136.23,105.01 L137.19,105.14 L138.16,105.28 L139.13,105.42 L140.10,105.56 L141.07,105.70 L142.04,105.84 L143.01,105.99 L143.98,106.13 L144.95,106.28 L145.92,106.44 L146.89,106.59 L147.86,106.75 L148.83,106.91 L149.80,107.07 L150.77,107.23 L151.73,107.40 L152.70,107.57 L153.67,107.74 L154.64,107.91 L155.61,108.09 L156.58,108.27 L157.55,108.45 L158.52,108.63 L159.49,108.82 L160.46,109.01 L161.43,109.20 L162.40,109.39 L163.37,109.59 L164.34,109.79 L165.31,109.99 L166.27,110.20 L167.24,110.41 L168.21,110.62 L169.18,110.84 L170.15,111.05 L171.12,111.28 L172.09,111.50 L173.06,111.73 L174.03,111.96 L175.00,112.20 L175.97,112.44 L176.94,112.68 L177.91,112.92 L178.88,113.17 L179.85,113.43 L180.81,113.68 L181.78,113.94 L182.75,114.21 L183.72,114.48 L184.69,114.75 L185.66,115.03 L186.63,115.31 L187.60,115.59 L188.57,115.88 L189.54,116.18 L190.51,116.48 L191.48,116.78 L192.45,117.09 L193.42,117.40 L194.39,117.71 L195.35,118.04 L196.32,118.36 L197.29,118.69 L198.26,119.03 L199.23,119.37 L200.20,119.72 L201.17,120.07 L202.14,120.43 L203.11,120.79 L204.08,121.16 L205.05,121.54 L206.02,121.92 L206.99,122.30 L207.96,122.70 L208.93,123.10 L209.89,123.50 L210.86,123.91 L211.83,124.33 L212.80,124.75 L213.77,125.18 L214.74,125.62 L215.71,126.07 L216.68,126.52 L217.65,126.98 L218.62,127.45 L219.59,127.92 L220.56,128.40 L221.53,128.89 L222.50,129.39 L223.47,129.90 L224.43,130.41 L225.40,130.93 L226.37,131.46 L227.34,132.00 L228.31,132.55 L229.28,133.11 L230.25,133.68 L231.22,134.26 L232.19,134.84 L233.16,135.44 L234.13,136.05 L235.10,136.67 L236.07,137.30 L237.04,137.93 L238.01,138.59 L238.97,139.25 L239.94,139.92 L240.91,140.61 L241.88,141.31 L242.85,142.02 L243.82,142.74 L244.79,143.48 L245.76,144.23 L246.73,144.99 L247.70,145.77 L248.67,146.56 L249.64,147.37 L250.61,148.19 L251.58,149.03 L252.55,149.89 L253.51,150.76 L254.48,151.65 L255.45,152.55 L256.42,153.48 L257.39,154.42 L258.36,155.38 L259.33,156.36 L260.30,157.37 L261.27,158.39 L262.24,159.44 L263.21,160.50 L264.18,161.60 L265.15,162.71 L266.12,163.85 L267.09,165.02 L268.05,166.21 L269.02,167.43 L269.99,168.68 L270.96,169.96 L271.93,171.28 L272.90,172.62 L273.87,174.00 L274.84,175.41 L275.81,176.86 L276.78,178.36 L277.75,179.89 L278.72,181.46 L279.69,183.08 L280.66,184.74 L281.63,186.46 L282.59,188.24 L283.56,190.06 L284.53,191.94 L285.50,193.88 L286.47,195.90 L287.44,197.99 L288.41,200.17 L289.38,202.43 L290.35,204.77 L291.32,207.19 L292.29,209.70 L293.26,212.34 L294.23,215.13 L295.20,218.10 L296.17,221.25 L297.13,224.56 L298.10,228.01 L299.07,231.58" stroke="#2e5fb0" stroke-width="1.80"/>
<path d="M42.20,99.17 L43.17,99.20 L44.14,99.24 L45.11,99.27 L46.08,99.31 L47.05,99.35 L48.02,99.38 L48.99,99.42 L49.95,99.46 L50.92,99.50 L51.89,99.54 L52.86,99.58 L53.83,99.62 L54.80,99.66 L55.77,99.70 L56.74,99.75 L57.71,99.79 L58.68,99.83 L59.65,99.88 L60.62,99.92 L61.59,99.97 L62.56,100.01 L63.53,100.06 L64.49,100.11 L65.46,100.16 L66.43,100.21 L67.40,100.26 L68.37,100.31 L69.34,100.36 L70.31,100.41 L71.28,100.46 L72.25,100.52 L73.22,100.57 L74.19,100.62 L75.16,100.68 L76.13,100.74 L77.10,100.79 L78.07,100.85 L79.03,100.91 L80.00,100.97 L80.97,101.03 L81.94,101.09 L82.91,101.15 L83.88,101.22 L84.85,101.28 L85.82,101.35 L86.79,101.41 L87.76,101.48 L88.73,101.55 L89.70,101.62 L90.67,101.69 L91.64,101.76 L92.61,101.83 L93.57,101.90 L94.54,101.97 L95.51,102.05 L96.48,102.12 L97.45,102.20 L98.42,102.28 L99.39,102.36 L100.36,102.44 L101.33,102.52 L102.30,102.60 L103.27,102.69 L104.24,102.77 L105.21,102.86 L106.18,102.94 L107.15,103.03 L108.11,103.12 L109.08,103.21 L110.05,103.31 L111.02,103.40 L111.99,103.49 L112.96,103.59 L113.93,103.69 L114.90,103.79 L115.87,103.89 L116.84,103.99 L117.81,104.09 L118.78,104.20 L119.75,104.30 L120.72,104.41 L121.69,104.52 L122.65,104.63 L123.62,104.75 L124.59,104.86 L125.56,104.98 L126.53,105.09 L127.50,105.21 L128.47,105.33 L129.44,105.46 L130.41,105.58 L131.38,105.71 L132.35,105.83 L133.32,105.96 L134.29,106.10 L135.26,106.23 L136.23,106.37 L137.19,106.50 L138.16,106.64 L139.13,106.78 L140.10,106.93 L141.07,107.07 L142.04,107.22 L143.01,107.37 L143.98,107.52 L144.95,107.68 L145.92,107.83 L146.89,107.99 L147.86,108.15 L148.83,108.32 L149.80,108.48 L150.77,108.65 L151.73,108.82 L152.70,108.99 L153.67,109.17 L154.64,109.35 L155.61,109.53 L156.58,109.71 L157.55,109.90 L158.52,110.09 L159.49,110.28 L160.46,110.47 L161.43,110.67 L162.40,110.87 L163.37,111.07 L164.34,111.28 L165.31,111.49 L166.27,111.70 L167.24,111.92 L168.21,112.13 L169.18,112.36 L170.15,112.58 L171.12,112.81 L172.09,113.04 L173.06,113.28 L174.03,113.52 L175.00,113.76 L175.97,114.00 L176.94,114.25 L177.91,114.51 L178.88,114.76 L179.85,115.02 L180.81,115.29 L181.78,115.56 L182.75,115.83 L183.72,116.11 L184.69,116.39 L185.66,116.67 L186.63,116.96 L187.60,117.26 L188.57,117.56 L189.54,117.86 L190.51,118.17 L191.48,118.48 L192.45,118.80 L193.42,119.12 L194.39,119.45 L195.35,119.78 L196.32,120.11 L197.29,120.46 L198.26,120.80 L199.23,121.16 L200.20,121.52 L201.17,121.88 L202.14,122.25 L203.11,122.63 L204.08,123.01 L205.05,123.39 L206.02,123.79 L206.99,124.19 L207.96,124.59 L208.93,125.01 L209.89,125.43 L210.86,125.85 L211.83,126.28 L212.80,126.72 L213.77,127.17 L214.74,127.62 L215.71,128.09 L216.68,128.55 L217.65,129.03 L218.62,129.51 L219.59,130.01 L220.56,130.51 L221.53,131.02 L222.50,131.53 L223.47,132.06 L224.43,132.59 L225.40,133.14 L226.37,133.69 L227.34,134.25 L228.31,134.82 L229.28,135.40 L230.25,136.00 L231.22,136.60 L232.19,137.21 L233.16,137.83 L234.13,138.47 L235.10,139.11 L236.07,139.77 L237.04,140.43 L238.01,141.11 L238.97,141.81 L239.94,142.51 L240.91,143.23 L241.88,143.96 L242.85,144.70 L243.82,145.46 L244.79,146.24 L245.76,147.02 L246.73,147.83 L247.70,148.64 L248.67,149.48 L249.64,150.33 L250.61,151.19 L251.58,152.08 L252.55,152.98 L253.51,153.90 L254.48,154.84 L255.45,155.80 L256.42,156.78 L257.39,157.78 L258.36,158.80 L259.33,159.84 L260.30,160.91 L261.27,162.00 L262.24,163.11 L263.21,164.25 L264.18,165.41 L265.15,166.61 L266.12,167.83 L267.09,169.08 L268.05,170.36 L269.02,171.68 L269.99,173.02 L270.96,174.41 L271.93,175.83 L272.90,177.29 L273.87,178.79 L274.84,180.32 L275.81,181.90 L276.78,183.53 L277.75,185.22 L278.72,186.96 L279.69,188.75 L280.66,190.59 L281.63,192.49 L282.59,194.45 L283.56,196.50 L284.53,198.64 L285.50,200.87 L286.47,203.17 L287.44,205.54 L288.41,207.99 L289.38,210.55 L290.35,213.28 L291.32,216.19 L292.29,219.30 L293.26,222.58 L294.23,226.00 L295.20,229.54" stroke="#1b3f80" stroke-width="1.80"/>
<path d="M42.20,83.00 L43.17,83.03 L44.14,83.05 L45.11,83.08 L46.08,83.11 L47.05,83.13 L48.02,83.16 L48.99,83.19 L49.95,83.21 L50.92,83.24 L51.89,83.27 L52.86,83.30 L53.83,83.33 L54.80,83.36 L55.77,83.39 L56.74,83.42 L57.71,83.45 L58.68,83.48 L59.65,83.51 L60.62,83.54 L61.59,83.57 L62.56,83.61 L63.53,83.64 L64.49,83.67 L65.46,83.71 L66.43,83.74 L67.40,83.78 L68.37,83.81 L69.34,83.85 L70.31,83.89 L71.28,83.92 L72.25,83.96 L73.22,84.00 L74.19,84.04 L75.16,84.08 L76.13,84.12 L77.10,84.16 L78.07,84.20 L79.03,84.24 L80.00,84.28 L80.97,84.33 L81.94,84.37 L82.91,84.41 L83.88,84.46 L84.85,84.50 L85.82,84.55 L86.79,84.60 L87.76,84.64 L88.73,84.69 L89.70,84.74 L90.67,84.79 L91.64,84.84 L92.61,84.89 L93.57,84.94 L94.54,84.99 L95.51,85.04 L96.48,85.10 L97.45,85.15 L98.42,85.21 L99.39,85.26 L100.36,85.32 L101.33,85.38 L102.30,85.43 L103.27,85.49 L104.24,85.55 L105.21,85.61 L106.18,85.67 L107.15,85.74 L108.11,85.80 L109.08,85.86 L110.05,85.93 L111.02,85.99 L111.99,86.06 L112.96,86.13 L113.93,86.20 L114.90,86.27 L115.87,86.34 L116.84,86.41 L117.81,86.48 L118.78,86.55 L119.75,86.63 L120.72,86.70 L121.69,86.78 L122.65,86.86 L123.62,86.94 L124.59,87.02 L125.56,87.10 L126.53,87.18 L127.50,87.26 L128.47,87.35 L129.44,87.43 L130.41,87.52 L131.38,87.61 L132.35,87.69 L133.32,87.79 L134.29,87.88 L135.26,87.97 L136.23,88.06 L137.19,88.16 L138.16,88.26 L139.13,88.35 L140.10,88.45 L141.07,88.55 L142.04,88.66 L143.01,88.76 L143.98,88.87 L144.95,88.97 L145.92,89.08 L146.89,89.19 L147.86,89.30 L148.83,89.41 L149.80,89.53 L150.77,89.65 L151.73,89.76 L152.70,89.88 L153.67,90.00 L154.64,90.13 L155.61,90.25 L156.58,90.38 L157.55,90.50 L158.52,90.63 L159.49,90.76 L160.46,90.90 L161.43,91.03 L162.40,91.17 L163.37,91.31 L164.34,91.45 L165.31,91.59 L166.27,91.74 L167.24,91.88 L168.21,92.03 L169.18,92.18 L170.15,92.34 L171.12,92.49 L172.09,92.65 L173.06,92.81 L174.03,92.97 L175.00,93.13 L175.97,93.30 L176.94,93.47 L177.91,93.64 L178.88,93.81 L179.85,93.99 L180.81,94.17 L181.78,94.35 L182.75,94.53 L183.72,94.72 L184.69,94.91 L185.66,95.10 L186.63,95.29 L187.60,95.49 L188.57,95.69 L189.54,95.89 L190.51,96.09 L191.48,96.30 L192.45,96.51 L193.42,96.72 L194.39,96.94 L195.35,97.16 L196.32,97.38 L197.29,97.61 L198.26,97.84 L199.23,98.07 L200.20,98.30 L201.17,98.54 L202.14,98.78 L203.11,99.03 L204.08,99.28 L205.05,99.53 L206.02,99.79 L206.99,100.05 L207.96,100.31 L208.93,100.57 L209.89,100.84 L210.86,101.12 L211.83,101.40 L212.80,101.68 L213.77,101.96 L214.74,102.25 L215.71,102.55 L216.68,102.84 L217.65,103.15 L218.62,103.45 L219.59,103.76 L220.56,104.08 L221.53,104.40 L222.50,104.72 L223.47,105.05 L224.43,105.38 L225.40,105.72 L226.37,106.06 L227.34,106.41 L228.31,106.76 L229.28,107.11 L230.25,107.48 L231.22,107.84 L232.19,108.21 L233.16,108.59 L234.13,108.97 L235.10,109.36 L236.07,109.75 L237.04,110.15 L238.01,110.55 L238.97,110.96 L239.94,111.38 L240.91,111.80 L241.88,112.23 L242.85,112.66 L243.82,113.10 L244.79,113.54 L245.76,114.00 L246.73,114.45 L247.70,114.92 L248.67,115.39 L249.64,115.86 L250.61,116.35 L251.58,116.84 L252.55,117.33 L253.51,117.84 L254.48,118.35 L255.45,118.87 L256.42,119.39 L257.39,119.93 L258.36,120.47 L259.33,121.02 L260.30,121.57 L261.27,122.13 L262.24,122.70 L263.21,123.28 L264.18,123.87 L265.15,124.47 L266.12,125.07 L267.09,125.68 L268.05,126.30 L269.02,126.93 L269.99,127.57 L270.96,128.22 L271.93,128.87 L272.90,129.54 L273.87,130.21 L274.84,130.90 L275.81,131.59 L276.78,132.29 L277.75,133.01 L278.72,133.73 L279.69,134.46 L280.66,135.21 L281.63,135.96 L282.59,136.72 L283.56,137.50 L284.53,138.28 L285.50,139.08 L286.47,139.89 L287.44,140.71 L288.41,141.54 L289.38,142.38 L290.35,143.23 L291.32,144.10 L292.29,144.98 L293.26,145.87 L294.23,146.77 L295.20,147.68 L296.17,148.61 L297.13,149.55 L298.10,150.51 L299.07,151.47 L300.04,152.45 L301.01,153.45 L301.98,154.46 L302.95,155.48 L303.92,156.52 L304.89,157.57 L305.86,158.63 L306.83,159.71 L307.80,160.81 L308.77,161.92 L309.74,163.05 L310.71,164.19 L311.67,165.35 L312.64,166.52 L313.61,167.71 L314.58,168.92 L315.55,170.14 L316.52,171.38 L317.49,172.64 L318.46,173.92 L319.43,175.21 L320.40,176.53 L321.37,177.86 L322.34,179.20 L323.31,180.57 L324.28,181.96 L325.25,183.37 L326.21,184.79 L327.18,186.24 L328.15,187.70 L329.12,189.19 L330.09,190.70 L331.06,192.23 L332.03,193.77 L333.00,195.35" stroke="#ffff00" stroke-width="2.6" stroke-dasharray="17.85 7.95" stroke-dashoffset="0.9"/>
</g>
<g stroke="#333" stroke-width="1" fill="none">
<line x1="42.5" y1="48.80" x2="42.5" y2="223.10" stroke="#4a4a4a"/>
<line x1="42" y1="222.8" x2="333.30" y2="222.8" stroke="#5b5b5b"/>
</g>
<g fill="#000"><text x="42.20" y="231.90" font-size="7.80" textLength="4.45" lengthAdjust="spacingAndGlyphs" text-anchor="middle">1</text><text x="90.67" y="231.90" font-size="7.80" textLength="4.45" lengthAdjust="spacingAndGlyphs" text-anchor="middle">2</text><text x="139.13" y="231.90" font-size="7.80" textLength="4.45" lengthAdjust="spacingAndGlyphs" text-anchor="middle">4</text><text x="187.60" y="231.90" font-size="7.80" textLength="4.45" lengthAdjust="spacingAndGlyphs" text-anchor="middle">8</text><text x="236.07" y="231.90" font-size="7.80" textLength="8.91" lengthAdjust="spacingAndGlyphs" text-anchor="middle">16</text><text x="284.53" y="231.90" font-size="7.80" textLength="8.91" lengthAdjust="spacingAndGlyphs" text-anchor="middle">32</text><text x="333.00" y="231.90" font-size="7.80" textLength="8.91" lengthAdjust="spacingAndGlyphs" text-anchor="middle">64</text><text x="38.00" y="225.45" font-size="7.80" textLength="4.45" lengthAdjust="spacingAndGlyphs" text-anchor="end">1</text><text x="38.00" y="200.62" font-size="7.80" textLength="4.45" lengthAdjust="spacingAndGlyphs" text-anchor="end">2</text><text x="38.00" y="175.79" font-size="7.80" textLength="4.45" lengthAdjust="spacingAndGlyphs" text-anchor="end">4</text><text x="38.00" y="150.96" font-size="7.80" textLength="4.45" lengthAdjust="spacingAndGlyphs" text-anchor="end">8</text><text x="38.00" y="126.14" font-size="7.80" textLength="8.91" lengthAdjust="spacingAndGlyphs" text-anchor="end">16</text><text x="38.00" y="101.31" font-size="7.80" textLength="8.91" lengthAdjust="spacingAndGlyphs" text-anchor="end">32</text><text x="38.00" y="76.48" font-size="7.80" textLength="8.91" lengthAdjust="spacingAndGlyphs" text-anchor="end">64</text><text x="38.00" y="51.65" font-size="7.80" textLength="13.36" lengthAdjust="spacingAndGlyphs" text-anchor="end">128</text></g>
<rect x="52.50" y="109.40" width="94.00" height="107.60" fill="#fff" stroke="#333" stroke-width="1"/>
<g fill="#000"><line x1="55" y1="117.60" x2="74.5" y2="117.60" stroke="#6e2210" stroke-width="1.75" stroke-linecap="round"/><text x="77.20" y="120.45" font-size="8.15" textLength="21.72" lengthAdjust="spacingAndGlyphs">N = 1</text><line x1="55" y1="125.89" x2="74.5" y2="125.89" stroke="#a0442a" stroke-width="1.75" stroke-linecap="round"/><text x="77.20" y="128.74" font-size="8.15" textLength="21.72" lengthAdjust="spacingAndGlyphs">N = 2</text><line x1="55" y1="134.18" x2="74.5" y2="134.18" stroke="#dc7248" stroke-width="1.75" stroke-linecap="round"/><text x="77.20" y="137.03" font-size="8.15" textLength="21.72" lengthAdjust="spacingAndGlyphs">N = 4</text><line x1="55" y1="142.47" x2="74.5" y2="142.47" stroke="#f0a080" stroke-width="1.75" stroke-linecap="round"/><text x="77.20" y="145.32" font-size="8.15" textLength="21.72" lengthAdjust="spacingAndGlyphs">N = 8</text><line x1="55" y1="150.76" x2="74.5" y2="150.76" stroke="#f9cdb5" stroke-width="1.75" stroke-linecap="round"/><text x="77.20" y="153.61" font-size="8.15" textLength="26.56" lengthAdjust="spacingAndGlyphs">N = 16</text><line x1="55" y1="159.05" x2="74.5" y2="159.05" stroke="#f3eee8" stroke-width="1.75" stroke-linecap="round"/><text x="77.20" y="161.90" font-size="8.15" textLength="26.56" lengthAdjust="spacingAndGlyphs">N = 32</text><line x1="55" y1="167.35" x2="74.5" y2="167.35" stroke="#a9c8f0" stroke-width="1.75" stroke-linecap="round"/><text x="77.20" y="170.20" font-size="8.15" textLength="26.56" lengthAdjust="spacingAndGlyphs">N = 64</text><line x1="55" y1="175.64" x2="74.5" y2="175.64" stroke="#7aa6e6" stroke-width="1.75" stroke-linecap="round"/><text x="77.20" y="178.49" font-size="8.15" textLength="31.39" lengthAdjust="spacingAndGlyphs">N = 128</text><line x1="55" y1="183.93" x2="74.5" y2="183.93" stroke="#4a82d8" stroke-width="1.75" stroke-linecap="round"/><text x="77.20" y="186.78" font-size="8.15" textLength="31.39" lengthAdjust="spacingAndGlyphs">N = 256</text><line x1="55" y1="192.22" x2="74.5" y2="192.22" stroke="#2e5fb0" stroke-width="1.75" stroke-linecap="round"/><text x="77.20" y="195.07" font-size="8.15" textLength="31.39" lengthAdjust="spacingAndGlyphs">N = 512</text><line x1="55" y1="200.51" x2="74.5" y2="200.51" stroke="#1b3f80" stroke-width="1.75" stroke-linecap="round"/><text x="77.20" y="203.36" font-size="8.15" textLength="36.23" lengthAdjust="spacingAndGlyphs">N = 1024</text><line x1="55" y1="208.80" x2="73.8" y2="208.80" stroke="#ffff00" stroke-width="2.3" stroke-linecap="round"/><text x="78.10" y="211.65" font-size="8.15" textLength="66.57" lengthAdjust="spacingAndGlyphs">Approximate U.B.</text></g>
<text x="89.95" y="36.00" font-size="12.21" textLength="192.26" lengthAdjust="spacingAndGlyphs">Two-way quantum relay network</text>
<text x="59.75" y="48.50" font-size="12.21" textLength="254.37" lengthAdjust="spacingAndGlyphs">Multiplexed links per elem. segment = 128</text>
<text x="116.95" y="241.40" font-size="9.57" textLength="102.79" lengthAdjust="spacingAndGlyphs">Inter-repeater spacing</text>
<text class="s" x="222.9" y="240.9" font-size="10.2" font-family="Liberation Serif" font-style="italic">L</text>
<text class="s" x="229.3" y="243.5" font-size="6.6" font-family="Liberation Serif">0</text>
<text x="236.1" y="241.4" font-size="9.4" textLength="22.17" lengthAdjust="spacingAndGlyphs">(km)</text>
<g transform="translate(10.9,230.6) rotate(-90)"><text x="0.00" y="0.00" font-size="9.57" textLength="185.81" lengthAdjust="spacingAndGlyphs">Expected number of Bell pairs delivered</text></g>
<g transform="translate(21.0,159.5) rotate(-90)"><text x="0.00" y="0.00" font-size="9.63" textLength="51.26" lengthAdjust="spacingAndGlyphs">end-to-end</text></g></g>
<g transform="translate(348.40,0)"><g stroke="#000" stroke-opacity="0.07" stroke-width="1"><line x1="90.67" y1="48.80" x2="90.67" y2="222.60"/><line x1="139.13" y1="48.80" x2="139.13" y2="222.60"/><line x1="187.60" y1="48.80" x2="187.60" y2="222.60"/><line x1="236.07" y1="48.80" x2="236.07" y2="222.60"/><line x1="284.53" y1="48.80" x2="284.53" y2="222.60"/><line x1="333.00" y1="48.80" x2="333.00" y2="222.60"/><line x1="42.20" y1="197.77" x2="333.00" y2="197.77"/><line x1="42.20" y1="172.94" x2="333.00" y2="172.94"/><line x1="42.20" y1="148.11" x2="333.00" y2="148.11"/><line x1="42.20" y1="123.29" x2="333.00" y2="123.29"/><line x1="42.20" y1="98.46" x2="333.00" y2="98.46"/><line x1="42.20" y1="73.63" x2="333.00" y2="73.63"/><line x1="42.20" y1="48.80" x2="333.00" y2="48.80"/></g>
<g stroke="#333" stroke-width="1"><line x1="42.20" y1="222.60" x2="42.20" y2="219.70"/><line x1="90.67" y1="222.60" x2="90.67" y2="219.70"/><line x1="139.13" y1="222.60" x2="139.13" y2="219.70"/><line x1="187.60" y1="222.60" x2="187.60" y2="219.70"/><line x1="236.07" y1="222.60" x2="236.07" y2="219.70"/><line x1="284.53" y1="222.60" x2="284.53" y2="219.70"/><line x1="333.00" y1="222.60" x2="333.00" y2="219.70"/><line x1="42.20" y1="222.60" x2="45.10" y2="222.60"/><line x1="42.20" y1="197.77" x2="45.10" y2="197.77"/><line x1="42.20" y1="172.94" x2="45.10" y2="172.94"/><line x1="42.20" y1="148.11" x2="45.10" y2="148.11"/><line x1="42.20" y1="123.29" x2="45.10" y2="123.29"/><line x1="42.20" y1="98.46" x2="45.10" y2="98.46"/><line x1="42.20" y1="73.63" x2="45.10" y2="73.63"/><line x1="42.20" y1="48.80" x2="45.10" y2="48.80"/></g>
<g clip-path="url(#clip)" fill="none" stroke-linejoin="round">
<path d="M42.20,58.58 L43.17,58.61 L44.14,58.63 L45.11,58.66 L46.08,58.69 L47.05,58.71 L48.02,58.74 L48.99,58.77 L49.95,58.79 L50.92,58.82 L51.89,58.85 L52.86,58.88 L53.83,58.91 L54.80,58.94 L55.77,58.97 L56.74,59.00 L57.71,59.03 L58.68,59.06 L59.65,59.09 L60.62,59.12 L61.59,59.16 L62.56,59.19 L63.53,59.22 L64.49,59.26 L65.46,59.29 L66.43,59.33 L67.40,59.36 L68.37,59.40 L69.34,59.43 L70.31,59.47 L71.28,59.51 L72.25,59.55 L73.22,59.58 L74.19,59.62 L75.16,59.66 L76.13,59.70 L77.10,59.74 L78.07,59.78 L79.03,59.83 L80.00,59.87 L80.97,59.91 L81.94,59.95 L82.91,60.00 L83.88,60.04 L84.85,60.09 L85.82,60.14 L86.79,60.18 L87.76,60.23 L88.73,60.28 L89.70,60.33 L90.67,60.38 L91.64,60.43 L92.61,60.48 L93.57,60.53 L94.54,60.58 L95.51,60.63 L96.48,60.69 L97.45,60.74 L98.42,60.80 L99.39,60.85 L100.36,60.91 L101.33,60.97 L102.30,61.02 L103.27,61.08 L104.24,61.14 L105.21,61.20 L106.18,61.26 L107.15,61.33 L108.11,61.39 L109.08,61.45 L110.05,61.52 L111.02,61.59 L111.99,61.65 L112.96,61.72 L113.93,61.79 L114.90,61.86 L115.87,61.93 L116.84,62.00 L117.81,62.07 L118.78,62.15 L119.75,62.22 L120.72,62.30 L121.69,62.37 L122.65,62.45 L123.62,62.53 L124.59,62.61 L125.56,62.69 L126.53,62.78 L127.50,62.86 L128.47,62.94 L129.44,63.03 L130.41,63.12 L131.38,63.20 L132.35,63.29 L133.32,63.39 L134.29,63.48 L135.26,63.57 L136.23,63.67 L137.19,63.76 L138.16,63.86 L139.13,63.96 L140.10,64.06 L141.07,64.16 L142.04,64.26 L143.01,64.37 L143.98,64.47 L144.95,64.58 L145.92,64.69 L146.89,64.80 L147.86,64.91 L148.83,65.02 L149.80,65.14 L150.77,65.25 L151.73,65.37 L152.70,65.49 L153.67,65.61 L154.64,65.74 L155.61,65.86 L156.58,65.99 L157.55,66.12 L158.52,66.25 L159.49,66.38 L160.46,66.51 L161.43,66.65 L162.40,66.78 L163.37,66.92 L164.34,67.07 L165.31,67.21 L166.27,67.35 L167.24,67.50 L168.21,67.65 L169.18,67.80 L170.15,67.96 L171.12,68.11 L172.09,68.27 L173.06,68.43 L174.03,68.59 L175.00,68.76 L175.97,68.93 L176.94,69.09 L177.91,69.27 L178.88,69.44 L179.85,69.62 L180.81,69.80 L181.78,69.98 L182.75,70.16 L183.72,70.35 L184.69,70.54 L185.66,70.73 L186.63,70.92 L187.60,71.12 L188.57,71.32 L189.54,71.52 L190.51,71.73 L191.48,71.94 L192.45,72.15 L193.42,72.36 L194.39,72.58 L195.35,72.80 L196.32,73.03 L197.29,73.25 L198.26,73.48 L199.23,73.71 L200.20,73.95 L201.17,74.19 L202.14,74.43 L203.11,74.68 L204.08,74.93 L205.05,75.18 L206.02,75.44 L206.99,75.70 L207.96,75.96 L208.93,76.23 L209.89,76.50 L210.86,76.78 L211.83,77.06 L212.80,77.34 L213.77,77.63 L214.74,77.92 L215.71,78.21 L216.68,78.51 L217.65,78.81 L218.62,79.12 L219.59,79.43 L220.56,79.75 L221.53,80.07 L222.50,80.39 L223.47,80.72 L224.43,81.06 L225.40,81.40 L226.37,81.74 L227.34,82.09 L228.31,82.44 L229.28,82.80 L230.25,83.16 L231.22,83.53 L232.19,83.90 L233.16,84.28 L234.13,84.67 L235.10,85.05 L236.07,85.45 L237.04,85.85 L238.01,86.25 L238.97,86.67 L239.94,87.08 L240.91,87.51 L241.88,87.93 L242.85,88.37 L243.82,88.81 L244.79,89.26 L245.76,89.71 L246.73,90.17 L247.70,90.64 L248.67,91.11 L249.64,91.59 L250.61,92.07 L251.58,92.57 L252.55,93.06 L253.51,93.57 L254.48,94.08 L255.45,94.60 L256.42,95.13 L257.39,95.67 L258.36,96.21 L259.33,96.76 L260.30,97.32 L261.27,97.88 L262.24,98.46 L263.21,99.04 L264.18,99.63 L265.15,100.23 L266.12,100.83 L267.09,101.45 L268.05,102.07 L269.02,102.70 L269.99,103.34 L270.96,103.99 L271.93,104.65 L272.90,105.32 L273.87,106.00 L274.84,106.69 L275.81,107.38 L276.78,108.09 L277.75,108.80 L278.72,109.53 L279.69,110.27 L280.66,111.01 L281.63,111.77 L282.59,112.54 L283.56,113.32 L284.53,114.11 L285.50,114.91 L286.47,115.72 L287.44,116.54 L288.41,117.37 L289.38,118.22 L290.35,119.08 L291.32,119.95 L292.29,120.83 L293.26,121.72 L294.23,122.63 L295.20,123.55 L296.17,124.48 L297.13,125.42 L298.10,126.38 L299.07,127.35 L300.04,128.34 L301.01,129.34 L301.98,130.35 L302.95,131.38 L303.92,132.42 L304.89,133.47 L305.86,134.54 L306.83,135.63 L307.80,136.73 L308.77,137.84 L309.74,138.98 L310.71,140.12 L311.67,141.29 L312.64,142.47 L313.61,143.66 L314.58,144.87 L315.55,146.10 L316.52,147.35 L317.49,148.61 L318.46,149.90 L319.43,151.20 L320.40,152.51 L321.37,153.85 L322.34,155.21 L323.31,156.58 L324.28,157.97 L325.25,159.38 L326.21,160.82 L327.18,162.27 L328.15,163.74 L329.12,165.23 L330.09,166.75 L331.06,168.28 L332.03,169.84 L333.00,171.42" stroke="#6e2210" stroke-width="1.80"/>
<path d="M42.20,60.23 L43.17,60.26 L44.14,60.28 L45.11,60.31 L46.08,60.34 L47.05,60.37 L48.02,60.39 L48.99,60.42 L49.95,60.45 L50.92,60.48 L51.89,60.51 L52.86,60.54 L53.83,60.57 L54.80,60.60 L55.77,60.63 L56.74,60.66 L57.71,60.69 L58.68,60.73 L59.65,60.76 L60.62,60.79 L61.59,60.83 L62.56,60.86 L63.53,60.90 L64.49,60.93 L65.46,60.97 L66.43,61.00 L67.40,61.04 L68.37,61.08 L69.34,61.11 L70.31,61.15 L71.28,61.19 L72.25,61.23 L73.22,61.27 L74.19,61.31 L75.16,61.35 L76.13,61.39 L77.10,61.44 L78.07,61.48 L79.03,61.52 L80.00,61.57 L80.97,61.61 L81.94,61.66 L82.91,61.70 L83.88,61.75 L84.85,61.79 L85.82,61.84 L86.79,61.89 L87.76,61.94 L88.73,61.99 L89.70,62.04 L90.67,62.09 L91.64,62.14 L92.61,62.20 L93.57,62.25 L94.54,62.30 L95.51,62.36 L96.48,62.41 L97.45,62.47 L98.42,62.53 L99.39,62.59 L100.36,62.64 L101.33,62.70 L102.30,62.76 L103.27,62.83 L104.24,62.89 L105.21,62.95 L106.18,63.02 L107.15,63.08 L108.11,63.15 L109.08,63.21 L110.05,63.28 L111.02,63.35 L111.99,63.42 L112.96,63.49 L113.93,63.56 L114.90,63.63 L115.87,63.71 L116.84,63.78 L117.81,63.86 L118.78,63.93 L119.75,64.01 L120.72,64.09 L121.69,64.17 L122.65,64.25 L123.62,64.33 L124.59,64.42 L125.56,64.50 L126.53,64.59 L127.50,64.67 L128.47,64.76 L129.44,64.85 L130.41,64.94 L131.38,65.03 L132.35,65.12 L133.32,65.22 L134.29,65.31 L135.26,65.41 L136.23,65.51 L137.19,65.61 L138.16,65.71 L139.13,65.81 L140.10,65.92 L141.07,66.02 L142.04,66.13 L143.01,66.24 L143.98,66.35 L144.95,66.46 L145.92,66.57 L146.89,66.69 L147.86,66.80 L148.83,66.92 L149.80,67.04 L150.77,67.16 L151.73,67.28 L152.70,67.41 L153.67,67.53 L154.64,67.66 L155.61,67.79 L156.58,67.92 L157.55,68.06 L158.52,68.19 L159.49,68.33 L160.46,68.47 L161.43,68.61 L162.40,68.75 L163.37,68.90 L164.34,69.05 L165.31,69.20 L166.27,69.35 L167.24,69.50 L168.21,69.66 L169.18,69.81 L170.15,69.97 L171.12,70.14 L172.09,70.30 L173.06,70.47 L174.03,70.64 L175.00,70.81 L175.97,70.98 L176.94,71.16 L177.91,71.34 L178.88,71.52 L179.85,71.70 L180.81,71.89 L181.78,72.08 L182.75,72.27 L183.72,72.46 L184.69,72.66 L185.66,72.86 L186.63,73.06 L187.60,73.27 L188.57,73.48 L189.54,73.69 L190.51,73.90 L191.48,74.12 L192.45,74.34 L193.42,74.56 L194.39,74.79 L195.35,75.02 L196.32,75.25 L197.29,75.49 L198.26,75.73 L199.23,75.97 L200.20,76.22 L201.17,76.47 L202.14,76.72 L203.11,76.98 L204.08,77.24 L205.05,77.51 L206.02,77.77 L206.99,78.05 L207.96,78.32 L208.93,78.60 L209.89,78.88 L210.86,79.17 L211.83,79.46 L212.80,79.76 L213.77,80.06 L214.74,80.36 L215.71,80.67 L216.68,80.98 L217.65,81.30 L218.62,81.62 L219.59,81.95 L220.56,82.28 L221.53,82.61 L222.50,82.95 L223.47,83.30 L224.43,83.65 L225.40,84.00 L226.37,84.36 L227.34,84.73 L228.31,85.10 L229.28,85.47 L230.25,85.85 L231.22,86.24 L232.19,86.63 L233.16,87.03 L234.13,87.43 L235.10,87.84 L236.07,88.25 L237.04,88.67 L238.01,89.10 L238.97,89.53 L239.94,89.97 L240.91,90.41 L241.88,90.86 L242.85,91.32 L243.82,91.78 L244.79,92.25 L245.76,92.73 L246.73,93.21 L247.70,93.70 L248.67,94.20 L249.64,94.70 L250.61,95.22 L251.58,95.74 L252.55,96.26 L253.51,96.80 L254.48,97.34 L255.45,97.89 L256.42,98.44 L257.39,99.01 L258.36,99.58 L259.33,100.16 L260.30,100.75 L261.27,101.35 L262.24,101.96 L263.21,102.58 L264.18,103.20 L265.15,103.83 L266.12,104.48 L267.09,105.13 L268.05,105.79 L269.02,106.46 L269.99,107.14 L270.96,107.83 L271.93,108.53 L272.90,109.24 L273.87,109.97 L274.84,110.70 L275.81,111.44 L276.78,112.19 L277.75,112.96 L278.72,113.73 L279.69,114.52 L280.66,115.32 L281.63,116.13 L282.59,116.95 L283.56,117.78 L284.53,118.63 L285.50,119.49 L286.47,120.36 L287.44,121.24 L288.41,122.14 L289.38,123.05 L290.35,123.97 L291.32,124.91 L292.29,125.86 L293.26,126.83 L294.23,127.81 L295.20,128.81 L296.17,129.82 L297.13,130.84 L298.10,131.88 L299.07,132.94 L300.04,134.01 L301.01,135.10 L301.98,136.21 L302.95,137.33 L303.92,138.47 L304.89,139.63 L305.86,140.81 L306.83,142.00 L307.80,143.21 L308.77,144.44 L309.74,145.69 L310.71,146.96 L311.67,148.25 L312.64,149.56 L313.61,150.90 L314.58,152.25 L315.55,153.62 L316.52,155.02 L317.49,156.44 L318.46,157.88 L319.43,159.35 L320.40,160.84 L321.37,162.35 L322.34,163.89 L323.31,165.46 L324.28,167.05 L325.25,168.67 L326.21,170.32 L327.18,171.99 L328.15,173.69 L329.12,175.43 L330.09,177.19 L331.06,178.99 L332.03,180.82 L333.00,182.68" stroke="#a0442a" stroke-width="1.80"/>
<path d="M42.20,61.64 L43.17,61.67 L44.14,61.70 L45.11,61.72 L46.08,61.75 L47.05,61.78 L48.02,61.81 L48.99,61.84 L49.95,61.87 L50.92,61.90 L51.89,61.93 L52.86,61.96 L53.83,61.99 L54.80,62.02 L55.77,62.05 L56.74,62.09 L57.71,62.12 L58.68,62.15 L59.65,62.19 L60.62,62.22 L61.59,62.25 L62.56,62.29 L63.53,62.33 L64.49,62.36 L65.46,62.40 L66.43,62.44 L67.40,62.47 L68.37,62.51 L69.34,62.55 L70.31,62.59 L71.28,62.63 L72.25,62.67 L73.22,62.71 L74.19,62.75 L75.16,62.80 L76.13,62.84 L77.10,62.88 L78.07,62.93 L79.03,62.97 L80.00,63.02 L80.97,63.06 L81.94,63.11 L82.91,63.16 L83.88,63.21 L84.85,63.25 L85.82,63.30 L86.79,63.35 L87.76,63.40 L88.73,63.46 L89.70,63.51 L90.67,63.56 L91.64,63.61 L92.61,63.67 L93.57,63.72 L94.54,63.78 L95.51,63.84 L96.48,63.89 L97.45,63.95 L98.42,64.01 L99.39,64.07 L100.36,64.13 L101.33,64.19 L102.30,64.26 L103.27,64.32 L104.24,64.38 L105.21,64.45 L106.18,64.51 L107.15,64.58 L108.11,64.65 L109.08,64.72 L110.05,64.79 L111.02,64.86 L111.99,64.93 L112.96,65.00 L113.93,65.08 L114.90,65.15 L115.87,65.23 L116.84,65.30 L117.81,65.38 L118.78,65.46 L119.75,65.54 L120.72,65.62 L121.69,65.71 L122.65,65.79 L123.62,65.87 L124.59,65.96 L125.56,66.05 L126.53,66.14 L127.50,66.23 L128.47,66.32 L129.44,66.41 L130.41,66.50 L131.38,66.60 L132.35,66.69 L133.32,66.79 L134.29,66.89 L135.26,66.99 L136.23,67.09 L137.19,67.19 L138.16,67.30 L139.13,67.40 L140.10,67.51 L141.07,67.62 L142.04,67.73 L143.01,67.84 L143.98,67.96 L144.95,68.07 L145.92,68.19 L146.89,68.31 L147.86,68.43 L148.83,68.55 L149.80,68.67 L150.77,68.80 L151.73,68.92 L152.70,69.05 L153.67,69.18 L154.64,69.32 L155.61,69.45 L156.58,69.59 L157.55,69.72 L158.52,69.86 L159.49,70.01 L160.46,70.15 L161.43,70.30 L162.40,70.44 L163.37,70.59 L164.34,70.75 L165.31,70.90 L166.27,71.06 L167.24,71.22 L168.21,71.38 L169.18,71.54 L170.15,71.71 L171.12,71.87 L172.09,72.04 L173.06,72.22 L174.03,72.39 L175.00,72.57 L175.97,72.75 L176.94,72.93 L177.91,73.12 L178.88,73.30 L179.85,73.50 L180.81,73.69 L181.78,73.88 L182.75,74.08 L183.72,74.28 L184.69,74.49 L185.66,74.70 L186.63,74.91 L187.60,75.12 L188.57,75.33 L189.54,75.55 L190.51,75.77 L191.48,76.00 L192.45,76.23 L193.42,76.46 L194.39,76.70 L195.35,76.93 L196.32,77.17 L197.29,77.42 L198.26,77.67 L199.23,77.92 L200.20,78.18 L201.17,78.44 L202.14,78.70 L203.11,78.96 L204.08,79.23 L205.05,79.51 L206.02,79.79 L206.99,80.07 L207.96,80.36 L208.93,80.65 L209.89,80.94 L210.86,81.24 L211.83,81.54 L212.80,81.85 L213.77,82.16 L214.74,82.47 L215.71,82.79 L216.68,83.12 L217.65,83.45 L218.62,83.78 L219.59,84.12 L220.56,84.47 L221.53,84.81 L222.50,85.17 L223.47,85.53 L224.43,85.89 L225.40,86.26 L226.37,86.63 L227.34,87.01 L228.31,87.40 L229.28,87.79 L230.25,88.19 L231.22,88.59 L232.19,88.99 L233.16,89.41 L234.13,89.83 L235.10,90.25 L236.07,90.68 L237.04,91.12 L238.01,91.57 L238.97,92.02 L239.94,92.47 L240.91,92.94 L241.88,93.41 L242.85,93.89 L243.82,94.37 L244.79,94.86 L245.76,95.36 L246.73,95.86 L247.70,96.38 L248.67,96.90 L249.64,97.43 L250.61,97.96 L251.58,98.50 L252.55,99.06 L253.51,99.62 L254.48,100.18 L255.45,100.76 L256.42,101.34 L257.39,101.94 L258.36,102.54 L259.33,103.15 L260.30,103.77 L261.27,104.40 L262.24,105.04 L263.21,105.68 L264.18,106.34 L265.15,107.01 L266.12,107.68 L267.09,108.37 L268.05,109.07 L269.02,109.78 L269.99,110.49 L270.96,111.22 L271.93,111.96 L272.90,112.71 L273.87,113.48 L274.84,114.25 L275.81,115.04 L276.78,115.83 L277.75,116.64 L278.72,117.46 L279.69,118.30 L280.66,119.15 L281.63,120.01 L282.59,120.88 L283.56,121.77 L284.53,122.67 L285.50,123.58 L286.47,124.51 L287.44,125.46 L288.41,126.42 L289.38,127.39 L290.35,128.38 L291.32,129.39 L292.29,130.41 L293.26,131.44 L294.23,132.50 L295.20,133.57 L296.17,134.66 L297.13,135.76 L298.10,136.89 L299.07,138.03 L300.04,139.19 L301.01,140.37 L301.98,141.57 L302.95,142.79 L303.92,144.03 L304.89,145.29 L305.86,146.58 L306.83,147.88 L307.80,149.21 L308.77,150.56 L309.74,151.94 L310.71,153.34 L311.67,154.76 L312.64,156.21 L313.61,157.69 L314.58,159.19 L315.55,160.72 L316.52,162.28 L317.49,163.87 L318.46,165.49 L319.43,167.13 L320.40,168.82 L321.37,170.53 L322.34,172.28 L323.31,174.06 L324.28,175.88 L325.25,177.74 L326.21,179.64 L327.18,181.58 L328.15,183.56 L329.12,185.58 L330.09,187.65 L331.06,189.76 L332.03,191.93 L333.00,194.14" stroke="#dc7248" stroke-width="1.80"/>
<path d="M42.20,62.87 L43.17,62.90 L44.14,62.93 L45.11,62.96 L46.08,62.99 L47.05,63.02 L48.02,63.04 L48.99,63.07 L49.95,63.11 L50.92,63.14 L51.89,63.17 L52.86,63.20 L53.83,63.23 L54.80,63.26 L55.77,63.30 L56.74,63.33 L57.71,63.36 L58.68,63.40 L59.65,63.43 L60.62,63.47 L61.59,63.50 L62.56,63.54 L63.53,63.58 L64.49,63.61 L65.46,63.65 L66.43,63.69 L67.40,63.73 L68.37,63.77 L69.34,63.81 L70.31,63.85 L71.28,63.89 L72.25,63.93 L73.22,63.97 L74.19,64.02 L75.16,64.06 L76.13,64.11 L77.10,64.15 L78.07,64.20 L79.03,64.24 L80.00,64.29 L80.97,64.34 L81.94,64.38 L82.91,64.43 L83.88,64.48 L84.85,64.53 L85.82,64.58 L86.79,64.63 L87.76,64.69 L88.73,64.74 L89.70,64.79 L90.67,64.85 L91.64,64.90 L92.61,64.96 L93.57,65.01 L94.54,65.07 L95.51,65.13 L96.48,65.19 L97.45,65.25 L98.42,65.31 L99.39,65.37 L100.36,65.43 L101.33,65.50 L102.30,65.56 L103.27,65.63 L104.24,65.69 L105.21,65.76 L106.18,65.83 L107.15,65.90 L108.11,65.97 L109.08,66.04 L110.05,66.11 L111.02,66.18 L111.99,66.25 L112.96,66.33 L113.93,66.40 L114.90,66.48 L115.87,66.56 L116.84,66.64 L117.81,66.72 L118.78,66.80 L119.75,66.88 L120.72,66.97 L121.69,67.05 L122.65,67.14 L123.62,67.22 L124.59,67.31 L125.56,67.40 L126.53,67.49 L127.50,67.59 L128.47,67.68 L129.44,67.77 L130.41,67.87 L131.38,67.97 L132.35,68.07 L133.32,68.17 L134.29,68.27 L135.26,68.37 L136.23,68.48 L137.19,68.58 L138.16,68.69 L139.13,68.80 L140.10,68.91 L141.07,69.02 L142.04,69.13 L143.01,69.25 L143.98,69.37 L144.95,69.49 L145.92,69.61 L146.89,69.73 L147.86,69.85 L148.83,69.98 L149.80,70.10 L150.77,70.23 L151.73,70.36 L152.70,70.50 L153.67,70.63 L154.64,70.77 L155.61,70.90 L156.58,71.04 L157.55,71.19 L158.52,71.33 L159.49,71.48 L160.46,71.63 L161.43,71.78 L162.40,71.93 L163.37,72.08 L164.34,72.24 L165.31,72.40 L166.27,72.56 L167.24,72.72 L168.21,72.89 L169.18,73.06 L170.15,73.23 L171.12,73.40 L172.09,73.58 L173.06,73.75 L174.03,73.93 L175.00,74.12 L175.97,74.30 L176.94,74.49 L177.91,74.68 L178.88,74.87 L179.85,75.07 L180.81,75.27 L181.78,75.47 L182.75,75.68 L183.72,75.88 L184.69,76.09 L185.66,76.31 L186.63,76.52 L187.60,76.74 L188.57,76.97 L189.54,77.19 L190.51,77.42 L191.48,77.65 L192.45,77.89 L193.42,78.13 L194.39,78.37 L195.35,78.62 L196.32,78.87 L197.29,79.12 L198.26,79.37 L199.23,79.63 L200.20,79.90 L201.17,80.17 L202.14,80.44 L203.11,80.71 L204.08,80.99 L205.05,81.28 L206.02,81.56 L206.99,81.85 L207.96,82.15 L208.93,82.45 L209.89,82.75 L210.86,83.06 L211.83,83.37 L212.80,83.69 L213.77,84.01 L214.74,84.34 L215.71,84.67 L216.68,85.01 L217.65,85.35 L218.62,85.69 L219.59,86.04 L220.56,86.40 L221.53,86.76 L222.50,87.13 L223.47,87.50 L224.43,87.87 L225.40,88.26 L226.37,88.64 L227.34,89.04 L228.31,89.44 L229.28,89.84 L230.25,90.25 L231.22,90.67 L232.19,91.09 L233.16,91.52 L234.13,91.95 L235.10,92.40 L236.07,92.84 L237.04,93.30 L238.01,93.76 L238.97,94.23 L239.94,94.70 L240.91,95.18 L241.88,95.67 L242.85,96.17 L243.82,96.67 L244.79,97.18 L245.76,97.70 L246.73,98.23 L247.70,98.76 L248.67,99.30 L249.64,99.85 L250.61,100.41 L251.58,100.98 L252.55,101.55 L253.51,102.13 L254.48,102.72 L255.45,103.33 L256.42,103.94 L257.39,104.55 L258.36,105.18 L259.33,105.82 L260.30,106.47 L261.27,107.12 L262.24,107.79 L263.21,108.47 L264.18,109.16 L265.15,109.86 L266.12,110.56 L267.09,111.28 L268.05,112.02 L269.02,112.76 L269.99,113.51 L270.96,114.28 L271.93,115.05 L272.90,115.84 L273.87,116.65 L274.84,117.46 L275.81,118.29 L276.78,119.13 L277.75,119.98 L278.72,120.85 L279.69,121.73 L280.66,122.63 L281.63,123.54 L282.59,124.46 L283.56,125.40 L284.53,126.35 L285.50,127.32 L286.47,128.31 L287.44,129.31 L288.41,130.33 L289.38,131.37 L290.35,132.42 L291.32,133.49 L292.29,134.58 L293.26,135.69 L294.23,136.82 L295.20,137.97 L296.17,139.13 L297.13,140.32 L298.10,141.53 L299.07,142.76 L300.04,144.01 L301.01,145.28 L301.98,146.58 L302.95,147.90 L303.92,149.24 L304.89,150.61 L305.86,152.01 L306.83,153.43 L307.80,154.88 L308.77,156.36 L309.74,157.87 L310.71,159.40 L311.67,160.97 L312.64,162.57 L313.61,164.20 L314.58,165.87 L315.55,167.57 L316.52,169.31 L317.49,171.09 L318.46,172.90 L319.43,174.76 L320.40,176.66 L321.37,178.60 L322.34,180.59 L323.31,182.63 L324.28,184.72 L325.25,186.86 L326.21,189.06 L327.18,191.32 L328.15,193.64 L329.12,196.02 L330.09,198.47 L331.06,201.00 L332.03,203.60 L333.00,206.28" stroke="#f0a080" stroke-width="1.80"/>
<path d="M42.20,63.97 L43.17,64.00 L44.14,64.03 L45.11,64.06 L46.08,64.09 L47.05,64.12 L48.02,64.15 L48.99,64.18 L49.95,64.21 L50.92,64.24 L51.89,64.27 L52.86,64.31 L53.83,64.34 L54.80,64.37 L55.77,64.41 L56.74,64.44 L57.71,64.48 L58.68,64.51 L59.65,64.55 L60.62,64.58 L61.59,64.62 L62.56,64.66 L63.53,64.69 L64.49,64.73 L65.46,64.77 L66.43,64.81 L67.40,64.85 L68.37,64.89 L69.34,64.93 L70.31,64.97 L71.28,65.02 L72.25,65.06 L73.22,65.10 L74.19,65.15 L75.16,65.19 L76.13,65.24 L77.10,65.28 L78.07,65.33 L79.03,65.37 L80.00,65.42 L80.97,65.47 L81.94,65.52 L82.91,65.57 L83.88,65.62 L84.85,65.67 L85.82,65.72 L86.79,65.78 L87.76,65.83 L88.73,65.88 L89.70,65.94 L90.67,65.99 L91.64,66.05 L92.61,66.11 L93.57,66.17 L94.54,66.22 L95.51,66.28 L96.48,66.34 L97.45,66.41 L98.42,66.47 L99.39,66.53 L100.36,66.60 L101.33,66.66 L102.30,66.73 L103.27,66.79 L104.24,66.86 L105.21,66.93 L106.18,67.00 L107.15,67.07 L108.11,67.14 L109.08,67.21 L110.05,67.29 L111.02,67.36 L111.99,67.44 L112.96,67.51 L113.93,67.59 L114.90,67.67 L115.87,67.75 L116.84,67.83 L117.81,67.91 L118.78,68.00 L119.75,68.08 L120.72,68.17 L121.69,68.25 L122.65,68.34 L123.62,68.43 L124.59,68.52 L125.56,68.61 L126.53,68.71 L127.50,68.80 L128.47,68.90 L129.44,69.00 L130.41,69.09 L131.38,69.19 L132.35,69.30 L133.32,69.40 L134.29,69.50 L135.26,69.61 L136.23,69.72 L137.19,69.82 L138.16,69.93 L139.13,70.05 L140.10,70.16 L141.07,70.27 L142.04,70.39 L143.01,70.51 L143.98,70.63 L144.95,70.75 L145.92,70.87 L146.89,71.00 L147.86,71.13 L148.83,71.25 L149.80,71.38 L150.77,71.52 L151.73,71.65 L152.70,71.79 L153.67,71.92 L154.64,72.06 L155.61,72.21 L156.58,72.35 L157.55,72.50 L158.52,72.64 L159.49,72.79 L160.46,72.95 L161.43,73.10 L162.40,73.26 L163.37,73.42 L164.34,73.58 L165.31,73.74 L166.27,73.90 L167.24,74.07 L168.21,74.24 L169.18,74.42 L170.15,74.59 L171.12,74.77 L172.09,74.95 L173.06,75.13 L174.03,75.32 L175.00,75.50 L175.97,75.69 L176.94,75.89 L177.91,76.08 L178.88,76.28 L179.85,76.48 L180.81,76.69 L181.78,76.90 L182.75,77.11 L183.72,77.32 L184.69,77.53 L185.66,77.75 L186.63,77.98 L187.60,78.20 L188.57,78.43 L189.54,78.66 L190.51,78.90 L191.48,79.14 L192.45,79.38 L193.42,79.63 L194.39,79.87 L195.35,80.13 L196.32,80.38 L197.29,80.64 L198.26,80.91 L199.23,81.18 L200.20,81.45 L201.17,81.72 L202.14,82.00 L203.11,82.28 L204.08,82.57 L205.05,82.86 L206.02,83.16 L206.99,83.46 L207.96,83.76 L208.93,84.07 L209.89,84.39 L210.86,84.70 L211.83,85.02 L212.80,85.35 L213.77,85.68 L214.74,86.02 L215.71,86.36 L216.68,86.71 L217.65,87.06 L218.62,87.41 L219.59,87.78 L220.56,88.14 L221.53,88.52 L222.50,88.89 L223.47,89.28 L224.43,89.66 L225.40,90.06 L226.37,90.46 L227.34,90.86 L228.31,91.28 L229.28,91.69 L230.25,92.12 L231.22,92.55 L232.19,92.99 L233.16,93.43 L234.13,93.88 L235.10,94.33 L236.07,94.80 L237.04,95.27 L238.01,95.74 L238.97,96.23 L239.94,96.72 L240.91,97.22 L241.88,97.72 L242.85,98.24 L243.82,98.76 L244.79,99.29 L245.76,99.83 L246.73,100.37 L247.70,100.92 L248.67,101.49 L249.64,102.06 L250.61,102.63 L251.58,103.22 L252.55,103.82 L253.51,104.42 L254.48,105.04 L255.45,105.66 L256.42,106.30 L257.39,106.94 L258.36,107.59 L259.33,108.26 L260.30,108.93 L261.27,109.62 L262.24,110.31 L263.21,111.02 L264.18,111.74 L265.15,112.46 L266.12,113.20 L267.09,113.96 L268.05,114.72 L269.02,115.49 L269.99,116.28 L270.96,117.08 L271.93,117.90 L272.90,118.72 L273.87,119.56 L274.84,120.42 L275.81,121.29 L276.78,122.17 L277.75,123.06 L278.72,123.98 L279.69,124.90 L280.66,125.85 L281.63,126.80 L282.59,127.78 L283.56,128.77 L284.53,129.78 L285.50,130.80 L286.47,131.85 L287.44,132.91 L288.41,133.99 L289.38,135.08 L290.35,136.20 L291.32,137.34 L292.29,138.50 L293.26,139.68 L294.23,140.88 L295.20,142.11 L296.17,143.35 L297.13,144.62 L298.10,145.92 L299.07,147.23 L300.04,148.58 L301.01,149.95 L301.98,151.35 L302.95,152.77 L303.92,154.23 L304.89,155.71 L305.86,157.23 L306.83,158.77 L307.80,160.35 L308.77,161.97 L309.74,163.62 L310.71,165.30 L311.67,167.03 L312.64,168.79 L313.61,170.60 L314.58,172.45 L315.55,174.34 L316.52,176.28 L317.49,178.27 L318.46,180.32 L319.43,182.41 L320.40,184.57 L321.37,186.78 L322.34,189.06 L323.31,191.41 L324.28,193.82 L325.25,196.32 L326.21,198.89 L327.18,201.55 L328.15,204.31 L329.12,207.16 L330.09,210.13 L331.06,213.21 L332.03,216.41 L333.00,219.76" stroke="#f9cdb5" stroke-width="1.80"/>
<path d="M42.20,64.97 L43.17,65.00 L44.14,65.03 L45.11,65.06 L46.08,65.09 L47.05,65.12 L48.02,65.15 L48.99,65.18 L49.95,65.22 L50.92,65.25 L51.89,65.28 L52.86,65.31 L53.83,65.35 L54.80,65.38 L55.77,65.42 L56.74,65.45 L57.71,65.49 L58.68,65.52 L59.65,65.56 L60.62,65.60 L61.59,65.63 L62.56,65.67 L63.53,65.71 L64.49,65.75 L65.46,65.79 L66.43,65.83 L67.40,65.87 L68.37,65.91 L69.34,65.95 L70.31,65.99 L71.28,66.04 L72.25,66.08 L73.22,66.13 L74.19,66.17 L75.16,66.22 L76.13,66.26 L77.10,66.31 L78.07,66.36 L79.03,66.41 L80.00,66.45 L80.97,66.50 L81.94,66.55 L82.91,66.60 L83.88,66.66 L84.85,66.71 L85.82,66.76 L86.79,66.82 L87.76,66.87 L88.73,66.93 L89.70,66.98 L90.67,67.04 L91.64,67.10 L92.61,67.15 L93.57,67.21 L94.54,67.27 L95.51,67.34 L96.48,67.40 L97.45,67.46 L98.42,67.52 L99.39,67.59 L100.36,67.65 L101.33,67.72 L102.30,67.79 L103.27,67.86 L104.24,67.92 L105.21,67.99 L106.18,68.07 L107.15,68.14 L108.11,68.21 L109.08,68.28 L110.05,68.36 L111.02,68.44 L111.99,68.51 L112.96,68.59 L113.93,68.67 L114.90,68.75 L115.87,68.83 L116.84,68.92 L117.81,69.00 L118.78,69.09 L119.75,69.17 L120.72,69.26 L121.69,69.35 L122.65,69.44 L123.62,69.53 L124.59,69.62 L125.56,69.72 L126.53,69.81 L127.50,69.91 L128.47,70.01 L129.44,70.11 L130.41,70.21 L131.38,70.31 L132.35,70.41 L133.32,70.52 L134.29,70.63 L135.26,70.73 L136.23,70.84 L137.19,70.95 L138.16,71.07 L139.13,71.18 L140.10,71.30 L141.07,71.42 L142.04,71.53 L143.01,71.66 L143.98,71.78 L144.95,71.90 L145.92,72.03 L146.89,72.16 L147.86,72.29 L148.83,72.42 L149.80,72.55 L150.77,72.69 L151.73,72.82 L152.70,72.96 L153.67,73.10 L154.64,73.25 L155.61,73.39 L156.58,73.54 L157.55,73.69 L158.52,73.84 L159.49,73.99 L160.46,74.15 L161.43,74.31 L162.40,74.47 L163.37,74.63 L164.34,74.79 L165.31,74.96 L166.27,75.13 L167.24,75.30 L168.21,75.48 L169.18,75.65 L170.15,75.83 L171.12,76.02 L172.09,76.20 L173.06,76.39 L174.03,76.58 L175.00,76.77 L175.97,76.96 L176.94,77.16 L177.91,77.36 L178.88,77.57 L179.85,77.77 L180.81,77.98 L181.78,78.20 L182.75,78.41 L183.72,78.63 L184.69,78.85 L185.66,79.08 L186.63,79.30 L187.60,79.54 L188.57,79.77 L189.54,80.01 L190.51,80.25 L191.48,80.49 L192.45,80.74 L193.42,80.99 L194.39,81.25 L195.35,81.51 L196.32,81.77 L197.29,82.04 L198.26,82.31 L199.23,82.58 L200.20,82.86 L201.17,83.15 L202.14,83.43 L203.11,83.72 L204.08,84.02 L205.05,84.32 L206.02,84.62 L206.99,84.93 L207.96,85.24 L208.93,85.56 L209.89,85.88 L210.86,86.21 L211.83,86.54 L212.80,86.87 L213.77,87.21 L214.74,87.56 L215.71,87.91 L216.68,88.27 L217.65,88.63 L218.62,88.99 L219.59,89.37 L220.56,89.74 L221.53,90.13 L222.50,90.51 L223.47,90.91 L224.43,91.31 L225.40,91.71 L226.37,92.13 L227.34,92.54 L228.31,92.97 L229.28,93.40 L230.25,93.84 L231.22,94.28 L232.19,94.73 L233.16,95.19 L234.13,95.65 L235.10,96.12 L236.07,96.60 L237.04,97.08 L238.01,97.57 L238.97,98.07 L239.94,98.58 L240.91,99.10 L241.88,99.62 L242.85,100.15 L243.82,100.69 L244.79,101.23 L245.76,101.79 L246.73,102.35 L247.70,102.92 L248.67,103.50 L249.64,104.09 L250.61,104.69 L251.58,105.30 L252.55,105.92 L253.51,106.55 L254.48,107.18 L255.45,107.83 L256.42,108.49 L257.39,109.16 L258.36,109.83 L259.33,110.52 L260.30,111.22 L261.27,111.93 L262.24,112.66 L263.21,113.39 L264.18,114.14 L265.15,114.89 L266.12,115.66 L267.09,116.45 L268.05,117.24 L269.02,118.05 L269.99,118.87 L270.96,119.71 L271.93,120.56 L272.90,121.42 L273.87,122.30 L274.84,123.19 L275.81,124.10 L276.78,125.02 L277.75,125.96 L278.72,126.92 L279.69,127.89 L280.66,128.88 L281.63,129.89 L282.59,130.91 L283.56,131.95 L284.53,133.01 L285.50,134.09 L286.47,135.19 L287.44,136.31 L288.41,137.45 L289.38,138.62 L290.35,139.80 L291.32,141.01 L292.29,142.24 L293.26,143.49 L294.23,144.77 L295.20,146.07 L296.17,147.40 L297.13,148.76 L298.10,150.14 L299.07,151.55 L300.04,153.00 L301.01,154.47 L301.98,155.97 L302.95,157.51 L303.92,159.08 L304.89,160.69 L305.86,162.33 L306.83,164.02 L307.80,165.74 L308.77,167.50 L309.74,169.31 L310.71,171.16 L311.67,173.06 L312.64,175.01 L313.61,177.01 L314.58,179.07 L315.55,181.18 L316.52,183.36 L317.49,185.60 L318.46,187.91 L319.43,190.30 L320.40,192.76 L321.37,195.30 L322.34,197.94 L323.31,200.67 L324.28,203.50 L325.25,206.45 L326.21,209.52 L327.18,212.73 L328.15,216.08 L329.12,219.59 L330.09,223.29 L331.06,227.19 L332.03,231.31" stroke="#f3eee8" stroke-width="1.80"/>
<path d="M42.20,65.90 L43.17,65.93 L44.14,65.96 L45.11,65.99 L46.08,66.02 L47.05,66.05 L48.02,66.08 L48.99,66.11 L49.95,66.14 L50.92,66.18 L51.89,66.21 L52.86,66.24 L53.83,66.28 L54.80,66.31 L55.77,66.35 L56.74,66.38 L57.71,66.42 L58.68,66.46 L59.65,66.49 L60.62,66.53 L61.59,66.57 L62.56,66.61 L63.53,66.65 L64.49,66.69 L65.46,66.73 L66.43,66.77 L67.40,66.81 L68.37,66.85 L69.34,66.89 L70.31,66.94 L71.28,66.98 L72.25,67.03 L73.22,67.07 L74.19,67.12 L75.16,67.16 L76.13,67.21 L77.10,67.26 L78.07,67.31 L79.03,67.36 L80.00,67.41 L80.97,67.46 L81.94,67.51 L82.91,67.56 L83.88,67.61 L84.85,67.67 L85.82,67.72 L86.79,67.78 L87.76,67.83 L88.73,67.89 L89.70,67.94 L90.67,68.00 L91.64,68.06 L92.61,68.12 L93.57,68.18 L94.54,68.24 L95.51,68.31 L96.48,68.37 L97.45,68.43 L98.42,68.50 L99.39,68.56 L100.36,68.63 L101.33,68.70 L102.30,68.77 L103.27,68.84 L104.24,68.91 L105.21,68.98 L106.18,69.05 L107.15,69.12 L108.11,69.20 L109.08,69.27 L110.05,69.35 L111.02,69.43 L111.99,69.51 L112.96,69.59 L113.93,69.67 L114.90,69.75 L115.87,69.84 L116.84,69.92 L117.81,70.01 L118.78,70.09 L119.75,70.18 L120.72,70.27 L121.69,70.36 L122.65,70.45 L123.62,70.55 L124.59,70.64 L125.56,70.74 L126.53,70.83 L127.50,70.93 L128.47,71.03 L129.44,71.13 L130.41,71.24 L131.38,71.34 L132.35,71.45 L133.32,71.56 L134.29,71.66 L135.26,71.77 L136.23,71.89 L137.19,72.00 L138.16,72.12 L139.13,72.23 L140.10,72.35 L141.07,72.47 L142.04,72.59 L143.01,72.72 L143.98,72.84 L144.95,72.97 L145.92,73.10 L146.89,73.23 L147.86,73.36 L148.83,73.49 L149.80,73.63 L150.77,73.77 L151.73,73.91 L152.70,74.05 L153.67,74.20 L154.64,74.34 L155.61,74.49 L156.58,74.64 L157.55,74.79 L158.52,74.95 L159.49,75.10 L160.46,75.26 L161.43,75.43 L162.40,75.59 L163.37,75.76 L164.34,75.92 L165.31,76.09 L166.27,76.27 L167.24,76.44 L168.21,76.62 L169.18,76.80 L170.15,76.99 L171.12,77.17 L172.09,77.36 L173.06,77.55 L174.03,77.75 L175.00,77.94 L175.97,78.14 L176.94,78.34 L177.91,78.55 L178.88,78.76 L179.85,78.97 L180.81,79.18 L181.78,79.40 L182.75,79.62 L183.72,79.84 L184.69,80.07 L185.66,80.30 L186.63,80.53 L187.60,80.77 L188.57,81.01 L189.54,81.26 L190.51,81.50 L191.48,81.75 L192.45,82.01 L193.42,82.27 L194.39,82.53 L195.35,82.79 L196.32,83.06 L197.29,83.34 L198.26,83.61 L199.23,83.89 L200.20,84.18 L201.17,84.47 L202.14,84.76 L203.11,85.06 L204.08,85.36 L205.05,85.67 L206.02,85.98 L206.99,86.30 L207.96,86.62 L208.93,86.94 L209.89,87.27 L210.86,87.61 L211.83,87.94 L212.80,88.29 L213.77,88.64 L214.74,88.99 L215.71,89.35 L216.68,89.72 L217.65,90.09 L218.62,90.46 L219.59,90.85 L220.56,91.23 L221.53,91.63 L222.50,92.03 L223.47,92.43 L224.43,92.84 L225.40,93.26 L226.37,93.68 L227.34,94.11 L228.31,94.55 L229.28,94.99 L230.25,95.44 L231.22,95.89 L232.19,96.36 L233.16,96.83 L234.13,97.30 L235.10,97.79 L236.07,98.28 L237.04,98.78 L238.01,99.28 L238.97,99.80 L239.94,100.32 L240.91,100.85 L241.88,101.39 L242.85,101.94 L243.82,102.49 L244.79,103.05 L245.76,103.63 L246.73,104.21 L247.70,104.80 L248.67,105.40 L249.64,106.01 L250.61,106.63 L251.58,107.25 L252.55,107.89 L253.51,108.54 L254.48,109.20 L255.45,109.87 L256.42,110.55 L257.39,111.24 L258.36,111.94 L259.33,112.66 L260.30,113.38 L261.27,114.12 L262.24,114.87 L263.21,115.63 L264.18,116.40 L265.15,117.19 L266.12,117.99 L267.09,118.80 L268.05,119.63 L269.02,120.47 L269.99,121.33 L270.96,122.20 L271.93,123.08 L272.90,123.98 L273.87,124.90 L274.84,125.83 L275.81,126.78 L276.78,127.74 L277.75,128.72 L278.72,129.72 L279.69,130.74 L280.66,131.78 L281.63,132.83 L282.59,133.91 L283.56,135.00 L284.53,136.12 L285.50,137.25 L286.47,138.41 L287.44,139.59 L288.41,140.80 L289.38,142.03 L290.35,143.28 L291.32,144.55 L292.29,145.86 L293.26,147.19 L294.23,148.55 L295.20,149.93 L296.17,151.35 L297.13,152.80 L298.10,154.28 L299.07,155.79 L300.04,157.33 L301.01,158.92 L301.98,160.54 L302.95,162.19 L303.92,163.89 L304.89,165.63 L305.86,167.42 L306.83,169.25 L307.80,171.13 L308.77,173.06 L309.74,175.04 L310.71,177.08 L311.67,179.18 L312.64,181.34 L313.61,183.57 L314.58,185.87 L315.55,188.25 L316.52,190.71 L317.49,193.25 L318.46,195.89 L319.43,198.62 L320.40,201.47 L321.37,204.44 L322.34,207.53 L323.31,210.77 L324.28,214.16 L325.25,217.73 L326.21,221.51 L327.18,225.51 L328.15,229.74" stroke="#a9c8f0" stroke-width="1.80"/>
<path d="M42.20,66.76 L43.17,66.79 L44.14,66.82 L45.11,66.85 L46.08,66.88 L47.05,66.91 L48.02,66.94 L48.99,66.98 L49.95,67.01 L50.92,67.04 L51.89,67.08 L52.86,67.11 L53.83,67.15 L54.80,67.18 L55.77,67.22 L56.74,67.25 L57.71,67.29 L58.68,67.33 L59.65,67.37 L60.62,67.40 L61.59,67.44 L62.56,67.48 L63.53,67.52 L64.49,67.56 L65.46,67.60 L66.43,67.65 L67.40,67.69 L68.37,67.73 L69.34,67.78 L70.31,67.82 L71.28,67.86 L72.25,67.91 L73.22,67.96 L74.19,68.00 L75.16,68.05 L76.13,68.10 L77.10,68.15 L78.07,68.20 L79.03,68.25 L80.00,68.30 L80.97,68.35 L81.94,68.40 L82.91,68.45 L83.88,68.51 L84.85,68.56 L85.82,68.62 L86.79,68.67 L87.76,68.73 L88.73,68.79 L89.70,68.85 L90.67,68.90 L91.64,68.96 L92.61,69.03 L93.57,69.09 L94.54,69.15 L95.51,69.21 L96.48,69.28 L97.45,69.34 L98.42,69.41 L99.39,69.48 L100.36,69.54 L101.33,69.61 L102.30,69.68 L103.27,69.75 L104.24,69.83 L105.21,69.90 L106.18,69.97 L107.15,70.05 L108.11,70.12 L109.08,70.20 L110.05,70.28 L111.02,70.36 L111.99,70.44 L112.96,70.52 L113.93,70.60 L114.90,70.69 L115.87,70.77 L116.84,70.86 L117.81,70.95 L118.78,71.03 L119.75,71.12 L120.72,71.22 L121.69,71.31 L122.65,71.40 L123.62,71.50 L124.59,71.59 L125.56,71.69 L126.53,71.79 L127.50,71.89 L128.47,71.99 L129.44,72.10 L130.41,72.20 L131.38,72.31 L132.35,72.42 L133.32,72.53 L134.29,72.64 L135.26,72.75 L136.23,72.86 L137.19,72.98 L138.16,73.10 L139.13,73.22 L140.10,73.34 L141.07,73.46 L142.04,73.58 L143.01,73.71 L143.98,73.84 L144.95,73.97 L145.92,74.10 L146.89,74.23 L147.86,74.37 L148.83,74.50 L149.80,74.64 L150.77,74.78 L151.73,74.93 L152.70,75.07 L153.67,75.22 L154.64,75.37 L155.61,75.52 L156.58,75.67 L157.55,75.83 L158.52,75.99 L159.49,76.15 L160.46,76.31 L161.43,76.47 L162.40,76.64 L163.37,76.81 L164.34,76.98 L165.31,77.16 L166.27,77.33 L167.24,77.51 L168.21,77.69 L169.18,77.88 L170.15,78.07 L171.12,78.26 L172.09,78.45 L173.06,78.64 L174.03,78.84 L175.00,79.04 L175.97,79.25 L176.94,79.45 L177.91,79.66 L178.88,79.87 L179.85,80.09 L180.81,80.31 L181.78,80.53 L182.75,80.76 L183.72,80.98 L184.69,81.22 L185.66,81.45 L186.63,81.69 L187.60,81.93 L188.57,82.18 L189.54,82.43 L190.51,82.68 L191.48,82.94 L192.45,83.20 L193.42,83.46 L194.39,83.73 L195.35,84.00 L196.32,84.27 L197.29,84.55 L198.26,84.84 L199.23,85.12 L200.20,85.42 L201.17,85.71 L202.14,86.01 L203.11,86.32 L204.08,86.63 L205.05,86.94 L206.02,87.26 L206.99,87.58 L207.96,87.91 L208.93,88.24 L209.89,88.58 L210.86,88.92 L211.83,89.27 L212.80,89.62 L213.77,89.98 L214.74,90.34 L215.71,90.71 L216.68,91.09 L217.65,91.47 L218.62,91.85 L219.59,92.24 L220.56,92.64 L221.53,93.04 L222.50,93.45 L223.47,93.87 L224.43,94.29 L225.40,94.72 L226.37,95.15 L227.34,95.59 L228.31,96.04 L229.28,96.49 L230.25,96.95 L231.22,97.42 L232.19,97.90 L233.16,98.38 L234.13,98.87 L235.10,99.37 L236.07,99.87 L237.04,100.38 L238.01,100.90 L238.97,101.43 L239.94,101.97 L240.91,102.51 L241.88,103.07 L242.85,103.63 L243.82,104.20 L244.79,104.78 L245.76,105.37 L246.73,105.97 L247.70,106.58 L248.67,107.20 L249.64,107.83 L250.61,108.46 L251.58,109.11 L252.55,109.77 L253.51,110.44 L254.48,111.12 L255.45,111.81 L256.42,112.51 L257.39,113.23 L258.36,113.95 L259.33,114.69 L260.30,115.44 L261.27,116.20 L262.24,116.98 L263.21,117.77 L264.18,118.57 L265.15,119.39 L266.12,120.22 L267.09,121.06 L268.05,121.92 L269.02,122.79 L269.99,123.68 L270.96,124.58 L271.93,125.50 L272.90,126.44 L273.87,127.40 L274.84,128.37 L275.81,129.36 L276.78,130.36 L277.75,131.39 L278.72,132.43 L279.69,133.50 L280.66,134.58 L281.63,135.69 L282.59,136.81 L283.56,137.96 L284.53,139.13 L285.50,140.33 L286.47,141.55 L287.44,142.79 L288.41,144.06 L289.38,145.36 L290.35,146.68 L291.32,148.03 L292.29,149.41 L293.26,150.82 L294.23,152.26 L295.20,153.74 L296.17,155.25 L297.13,156.79 L298.10,158.37 L299.07,159.99 L300.04,161.65 L301.01,163.35 L301.98,165.10 L302.95,166.89 L303.92,168.72 L304.89,170.61 L305.86,172.56 L306.83,174.55 L307.80,176.61 L308.77,178.73 L309.74,180.92 L310.71,183.17 L311.67,185.50 L312.64,187.92 L313.61,190.42 L314.58,193.01 L315.55,195.70 L316.52,198.50 L317.49,201.43 L318.46,204.48 L319.43,207.67 L320.40,211.01 L321.37,214.53 L322.34,218.27 L323.31,222.25 L324.28,226.47 L325.25,230.94" stroke="#7aa6e6" stroke-width="1.80"/>
<path d="M42.20,67.57 L43.17,67.60 L44.14,67.63 L45.11,67.66 L46.08,67.70 L47.05,67.73 L48.02,67.76 L48.99,67.79 L49.95,67.83 L50.92,67.86 L51.89,67.90 L52.86,67.93 L53.83,67.97 L54.80,68.00 L55.77,68.04 L56.74,68.08 L57.71,68.11 L58.68,68.15 L59.65,68.19 L60.62,68.23 L61.59,68.27 L62.56,68.31 L63.53,68.35 L64.49,68.39 L65.46,68.43 L66.43,68.48 L67.40,68.52 L68.37,68.56 L69.34,68.61 L70.31,68.65 L71.28,68.70 L72.25,68.74 L73.22,68.79 L74.19,68.84 L75.16,68.89 L76.13,68.94 L77.10,68.98 L78.07,69.03 L79.03,69.09 L80.00,69.14 L80.97,69.19 L81.94,69.24 L82.91,69.30 L83.88,69.35 L84.85,69.41 L85.82,69.46 L86.79,69.52 L87.76,69.58 L88.73,69.64 L89.70,69.70 L90.67,69.76 L91.64,69.82 L92.61,69.88 L93.57,69.94 L94.54,70.01 L95.51,70.07 L96.48,70.14 L97.45,70.20 L98.42,70.27 L99.39,70.34 L100.36,70.41 L101.33,70.48 L102.30,70.55 L103.27,70.62 L104.24,70.69 L105.21,70.77 L106.18,70.84 L107.15,70.92 L108.11,71.00 L109.08,71.08 L110.05,71.15 L111.02,71.24 L111.99,71.32 L112.96,71.40 L113.93,71.48 L114.90,71.57 L115.87,71.66 L116.84,71.74 L117.81,71.83 L118.78,71.92 L119.75,72.02 L120.72,72.11 L121.69,72.20 L122.65,72.30 L123.62,72.40 L124.59,72.49 L125.56,72.59 L126.53,72.69 L127.50,72.80 L128.47,72.90 L129.44,73.01 L130.41,73.11 L131.38,73.22 L132.35,73.33 L133.32,73.44 L134.29,73.56 L135.26,73.67 L136.23,73.79 L137.19,73.90 L138.16,74.02 L139.13,74.15 L140.10,74.27 L141.07,74.39 L142.04,74.52 L143.01,74.65 L143.98,74.78 L144.95,74.91 L145.92,75.04 L146.89,75.18 L147.86,75.32 L148.83,75.46 L149.80,75.60 L150.77,75.74 L151.73,75.89 L152.70,76.04 L153.67,76.19 L154.64,76.34 L155.61,76.49 L156.58,76.65 L157.55,76.81 L158.52,76.97 L159.49,77.13 L160.46,77.30 L161.43,77.46 L162.40,77.64 L163.37,77.81 L164.34,77.98 L165.31,78.16 L166.27,78.34 L167.24,78.52 L168.21,78.71 L169.18,78.90 L170.15,79.09 L171.12,79.28 L172.09,79.48 L173.06,79.68 L174.03,79.88 L175.00,80.08 L175.97,80.29 L176.94,80.50 L177.91,80.72 L178.88,80.93 L179.85,81.15 L180.81,81.38 L181.78,81.60 L182.75,81.83 L183.72,82.07 L184.69,82.30 L185.66,82.54 L186.63,82.79 L187.60,83.03 L188.57,83.28 L189.54,83.54 L190.51,83.80 L191.48,84.06 L192.45,84.32 L193.42,84.59 L194.39,84.86 L195.35,85.14 L196.32,85.42 L197.29,85.71 L198.26,86.00 L199.23,86.29 L200.20,86.59 L201.17,86.89 L202.14,87.20 L203.11,87.51 L204.08,87.83 L205.05,88.15 L206.02,88.47 L206.99,88.80 L207.96,89.14 L208.93,89.48 L209.89,89.82 L210.86,90.17 L211.83,90.53 L212.80,90.89 L213.77,91.26 L214.74,91.63 L215.71,92.01 L216.68,92.39 L217.65,92.78 L218.62,93.17 L219.59,93.57 L220.56,93.98 L221.53,94.39 L222.50,94.81 L223.47,95.23 L224.43,95.67 L225.40,96.10 L226.37,96.55 L227.34,97.00 L228.31,97.46 L229.28,97.92 L230.25,98.40 L231.22,98.88 L232.19,99.36 L233.16,99.86 L234.13,100.36 L235.10,100.87 L236.07,101.39 L237.04,101.92 L238.01,102.45 L238.97,102.99 L239.94,103.55 L240.91,104.11 L241.88,104.68 L242.85,105.25 L243.82,105.84 L244.79,106.44 L245.76,107.04 L246.73,107.66 L247.70,108.29 L248.67,108.92 L249.64,109.57 L250.61,110.23 L251.58,110.89 L252.55,111.57 L253.51,112.26 L254.48,112.96 L255.45,113.68 L256.42,114.40 L257.39,115.14 L258.36,115.89 L259.33,116.65 L260.30,117.43 L261.27,118.21 L262.24,119.02 L263.21,119.83 L264.18,120.66 L265.15,121.51 L266.12,122.37 L267.09,123.24 L268.05,124.13 L269.02,125.04 L269.99,125.96 L270.96,126.90 L271.93,127.86 L272.90,128.83 L273.87,129.82 L274.84,130.84 L275.81,131.87 L276.78,132.92 L277.75,133.99 L278.72,135.08 L279.69,136.19 L280.66,137.32 L281.63,138.48 L282.59,139.66 L283.56,140.86 L284.53,142.09 L285.50,143.35 L286.47,144.63 L287.44,145.94 L288.41,147.28 L289.38,148.64 L290.35,150.04 L291.32,151.47 L292.29,152.93 L293.26,154.43 L294.23,155.96 L295.20,157.53 L296.17,159.14 L297.13,160.79 L298.10,162.48 L299.07,164.22 L300.04,166.00 L301.01,167.83 L301.98,169.72 L302.95,171.65 L303.92,173.65 L304.89,175.70 L305.86,177.82 L306.83,180.01 L307.80,182.27 L308.77,184.61 L309.74,187.04 L310.71,189.55 L311.67,192.16 L312.64,194.87 L313.61,197.70 L314.58,200.66 L315.55,203.76 L316.52,206.99 L317.49,210.38 L318.46,213.97 L319.43,217.81 L320.40,221.91 L321.37,226.28 L322.34,230.89" stroke="#4a82d8" stroke-width="1.80"/>
<path d="M42.20,68.35 L43.17,68.38 L44.14,68.41 L45.11,68.44 L46.08,68.47 L47.05,68.51 L48.02,68.54 L48.99,68.57 L49.95,68.61 L50.92,68.64 L51.89,68.68 L52.86,68.71 L53.83,68.75 L54.80,68.78 L55.77,68.82 L56.74,68.86 L57.71,68.90 L58.68,68.94 L59.65,68.98 L60.62,69.02 L61.59,69.06 L62.56,69.10 L63.53,69.14 L64.49,69.18 L65.46,69.22 L66.43,69.27 L67.40,69.31 L68.37,69.35 L69.34,69.40 L70.31,69.44 L71.28,69.49 L72.25,69.54 L73.22,69.59 L74.19,69.63 L75.16,69.68 L76.13,69.73 L77.10,69.78 L78.07,69.83 L79.03,69.89 L80.00,69.94 L80.97,69.99 L81.94,70.05 L82.91,70.10 L83.88,70.16 L84.85,70.21 L85.82,70.27 L86.79,70.33 L87.76,70.39 L88.73,70.45 L89.70,70.51 L90.67,70.57 L91.64,70.63 L92.61,70.69 L93.57,70.76 L94.54,70.82 L95.51,70.89 L96.48,70.95 L97.45,71.02 L98.42,71.09 L99.39,71.16 L100.36,71.23 L101.33,71.30 L102.30,71.37 L103.27,71.45 L104.24,71.52 L105.21,71.60 L106.18,71.67 L107.15,71.75 L108.11,71.83 L109.08,71.91 L110.05,71.99 L111.02,72.07 L111.99,72.15 L112.96,72.24 L113.93,72.33 L114.90,72.41 L115.87,72.50 L116.84,72.59 L117.81,72.68 L118.78,72.77 L119.75,72.87 L120.72,72.96 L121.69,73.06 L122.65,73.15 L123.62,73.25 L124.59,73.35 L125.56,73.45 L126.53,73.56 L127.50,73.66 L128.47,73.77 L129.44,73.87 L130.41,73.98 L131.38,74.09 L132.35,74.20 L133.32,74.32 L134.29,74.43 L135.26,74.55 L136.23,74.67 L137.19,74.79 L138.16,74.91 L139.13,75.03 L140.10,75.16 L141.07,75.28 L142.04,75.41 L143.01,75.54 L143.98,75.68 L144.95,75.81 L145.92,75.95 L146.89,76.08 L147.86,76.23 L148.83,76.37 L149.80,76.51 L150.77,76.66 L151.73,76.81 L152.70,76.96 L153.67,77.11 L154.64,77.26 L155.61,77.42 L156.58,77.58 L157.55,77.74 L158.52,77.91 L159.49,78.07 L160.46,78.24 L161.43,78.41 L162.40,78.58 L163.37,78.76 L164.34,78.94 L165.31,79.12 L166.27,79.30 L167.24,79.49 L168.21,79.68 L169.18,79.87 L170.15,80.06 L171.12,80.26 L172.09,80.46 L173.06,80.66 L174.03,80.87 L175.00,81.08 L175.97,81.29 L176.94,81.51 L177.91,81.72 L178.88,81.95 L179.85,82.17 L180.81,82.40 L181.78,82.63 L182.75,82.86 L183.72,83.10 L184.69,83.34 L185.66,83.59 L186.63,83.83 L187.60,84.09 L188.57,84.34 L189.54,84.60 L190.51,84.86 L191.48,85.13 L192.45,85.40 L193.42,85.68 L194.39,85.95 L195.35,86.24 L196.32,86.52 L197.29,86.81 L198.26,87.11 L199.23,87.41 L200.20,87.71 L201.17,88.02 L202.14,88.34 L203.11,88.65 L204.08,88.98 L205.05,89.30 L206.02,89.64 L206.99,89.97 L207.96,90.32 L208.93,90.66 L209.89,91.02 L210.86,91.37 L211.83,91.74 L212.80,92.11 L213.77,92.48 L214.74,92.86 L215.71,93.25 L216.68,93.64 L217.65,94.03 L218.62,94.44 L219.59,94.85 L220.56,95.26 L221.53,95.68 L222.50,96.11 L223.47,96.55 L224.43,96.99 L225.40,97.44 L226.37,97.89 L227.34,98.36 L228.31,98.83 L229.28,99.30 L230.25,99.79 L231.22,100.28 L232.19,100.78 L233.16,101.28 L234.13,101.80 L235.10,102.32 L236.07,102.85 L237.04,103.39 L238.01,103.94 L238.97,104.50 L239.94,105.07 L240.91,105.64 L241.88,106.23 L242.85,106.82 L243.82,107.42 L244.79,108.04 L245.76,108.66 L246.73,109.29 L247.70,109.94 L248.67,110.59 L249.64,111.26 L250.61,111.93 L251.58,112.62 L252.55,113.32 L253.51,114.03 L254.48,114.75 L255.45,115.49 L256.42,116.23 L257.39,116.99 L258.36,117.77 L259.33,118.55 L260.30,119.35 L261.27,120.17 L262.24,121.00 L263.21,121.84 L264.18,122.70 L265.15,123.57 L266.12,124.46 L267.09,125.37 L268.05,126.29 L269.02,127.23 L269.99,128.19 L270.96,129.16 L271.93,130.16 L272.90,131.17 L273.87,132.20 L274.84,133.26 L275.81,134.33 L276.78,135.42 L277.75,136.54 L278.72,137.68 L279.69,138.84 L280.66,140.02 L281.63,141.23 L282.59,142.47 L283.56,143.73 L284.53,145.02 L285.50,146.34 L286.47,147.69 L287.44,149.07 L288.41,150.48 L289.38,151.92 L290.35,153.40 L291.32,154.91 L292.29,156.46 L293.26,158.05 L294.23,159.68 L295.20,161.35 L296.17,163.07 L297.13,164.83 L298.10,166.65 L299.07,168.51 L300.04,170.43 L301.01,172.41 L301.98,174.45 L302.95,176.55 L303.92,178.72 L304.89,180.97 L305.86,183.29 L306.83,185.71 L307.80,188.21 L308.77,190.81 L309.74,193.51 L310.71,196.33 L311.67,199.29 L312.64,202.40 L313.61,205.64 L314.58,209.02 L315.55,212.61 L316.52,216.47 L317.49,220.63 L318.46,225.07 L319.43,229.74" stroke="#2e5fb0" stroke-width="1.80"/>
<path d="M42.20,69.09 L43.17,69.12 L44.14,69.15 L45.11,69.18 L46.08,69.22 L47.05,69.25 L48.02,69.28 L48.99,69.32 L49.95,69.35 L50.92,69.39 L51.89,69.42 L52.86,69.46 L53.83,69.50 L54.80,69.53 L55.77,69.57 L56.74,69.61 L57.71,69.65 L58.68,69.69 L59.65,69.73 L60.62,69.77 L61.59,69.81 L62.56,69.85 L63.53,69.89 L64.49,69.93 L65.46,69.98 L66.43,70.02 L67.40,70.07 L68.37,70.11 L69.34,70.16 L70.31,70.20 L71.28,70.25 L72.25,70.30 L73.22,70.35 L74.19,70.40 L75.16,70.45 L76.13,70.50 L77.10,70.55 L78.07,70.60 L79.03,70.65 L80.00,70.71 L80.97,70.76 L81.94,70.81 L82.91,70.87 L83.88,70.93 L84.85,70.98 L85.82,71.04 L86.79,71.10 L87.76,71.16 L88.73,71.22 L89.70,71.28 L90.67,71.34 L91.64,71.41 L92.61,71.47 L93.57,71.54 L94.54,71.60 L95.51,71.67 L96.48,71.74 L97.45,71.80 L98.42,71.87 L99.39,71.94 L100.36,72.02 L101.33,72.09 L102.30,72.16 L103.27,72.24 L104.24,72.31 L105.21,72.39 L106.18,72.47 L107.15,72.55 L108.11,72.63 L109.08,72.71 L110.05,72.79 L111.02,72.87 L111.99,72.96 L112.96,73.04 L113.93,73.13 L114.90,73.22 L115.87,73.31 L116.84,73.40 L117.81,73.49 L118.78,73.59 L119.75,73.68 L120.72,73.78 L121.69,73.87 L122.65,73.97 L123.62,74.07 L124.59,74.17 L125.56,74.28 L126.53,74.38 L127.50,74.49 L128.47,74.59 L129.44,74.70 L130.41,74.81 L131.38,74.93 L132.35,75.04 L133.32,75.16 L134.29,75.27 L135.26,75.39 L136.23,75.51 L137.19,75.63 L138.16,75.76 L139.13,75.88 L140.10,76.01 L141.07,76.14 L142.04,76.27 L143.01,76.40 L143.98,76.54 L144.95,76.67 L145.92,76.81 L146.89,76.95 L147.86,77.10 L148.83,77.24 L149.80,77.39 L150.77,77.54 L151.73,77.69 L152.70,77.84 L153.67,78.00 L154.64,78.15 L155.61,78.31 L156.58,78.47 L157.55,78.64 L158.52,78.81 L159.49,78.97 L160.46,79.15 L161.43,79.32 L162.40,79.50 L163.37,79.68 L164.34,79.86 L165.31,80.04 L166.27,80.23 L167.24,80.42 L168.21,80.61 L169.18,80.81 L170.15,81.00 L171.12,81.20 L172.09,81.41 L173.06,81.61 L174.03,81.82 L175.00,82.04 L175.97,82.25 L176.94,82.47 L177.91,82.69 L178.88,82.92 L179.85,83.15 L180.81,83.38 L181.78,83.61 L182.75,83.85 L183.72,84.09 L184.69,84.34 L185.66,84.59 L186.63,84.84 L187.60,85.10 L188.57,85.36 L189.54,85.62 L190.51,85.89 L191.48,86.16 L192.45,86.44 L193.42,86.72 L194.39,87.00 L195.35,87.29 L196.32,87.58 L197.29,87.88 L198.26,88.18 L199.23,88.49 L200.20,88.80 L201.17,89.11 L202.14,89.43 L203.11,89.76 L204.08,90.09 L205.05,90.42 L206.02,90.76 L206.99,91.10 L207.96,91.45 L208.93,91.81 L209.89,92.17 L210.86,92.53 L211.83,92.90 L212.80,93.28 L213.77,93.66 L214.74,94.05 L215.71,94.44 L216.68,94.84 L217.65,95.25 L218.62,95.66 L219.59,96.08 L220.56,96.50 L221.53,96.94 L222.50,97.37 L223.47,97.82 L224.43,98.27 L225.40,98.73 L226.37,99.19 L227.34,99.67 L228.31,100.15 L229.28,100.64 L230.25,101.13 L231.22,101.63 L232.19,102.15 L233.16,102.67 L234.13,103.19 L235.10,103.73 L236.07,104.27 L237.04,104.83 L238.01,105.39 L238.97,105.96 L239.94,106.54 L240.91,107.13 L241.88,107.73 L242.85,108.34 L243.82,108.96 L244.79,109.59 L245.76,110.23 L246.73,110.88 L247.70,111.54 L248.67,112.21 L249.64,112.90 L250.61,113.59 L251.58,114.30 L252.55,115.02 L253.51,115.75 L254.48,116.49 L255.45,117.25 L256.42,118.02 L257.39,118.80 L258.36,119.60 L259.33,120.41 L260.30,121.24 L261.27,122.08 L262.24,122.94 L263.21,123.81 L264.18,124.70 L265.15,125.60 L266.12,126.52 L267.09,127.46 L268.05,128.41 L269.02,129.39 L269.99,130.38 L270.96,131.39 L271.93,132.42 L272.90,133.48 L273.87,134.55 L274.84,135.64 L275.81,136.76 L276.78,137.90 L277.75,139.06 L278.72,140.25 L279.69,141.47 L280.66,142.71 L281.63,143.97 L282.59,145.27 L283.56,146.59 L284.53,147.95 L285.50,149.33 L286.47,150.75 L287.44,152.20 L288.41,153.69 L289.38,155.21 L290.35,156.78 L291.32,158.38 L292.29,160.02 L293.26,161.71 L294.23,163.45 L295.20,165.23 L296.17,167.07 L297.13,168.96 L298.10,170.91 L299.07,172.92 L300.04,174.99 L301.01,177.13 L301.98,179.35 L302.95,181.64 L303.92,184.02 L304.89,186.49 L305.86,189.06 L306.83,191.73 L307.80,194.50 L308.77,197.43 L309.74,200.51 L310.71,203.73 L311.67,207.08 L312.64,210.60 L313.61,214.40 L314.58,218.53 L315.55,222.99 L316.52,227.68 L317.49,232.56" stroke="#1b3f80" stroke-width="1.80"/>
<path d="M42.20,58.18 L43.17,58.20 L44.14,58.23 L45.11,58.25 L46.08,58.28 L47.05,58.30 L48.02,58.33 L48.99,58.36 L49.95,58.39 L50.92,58.41 L51.89,58.44 L52.86,58.47 L53.83,58.50 L54.80,58.53 L55.77,58.56 L56.74,58.59 L57.71,58.62 L58.68,58.65 L59.65,58.68 L60.62,58.71 L61.59,58.75 L62.56,58.78 L63.53,58.81 L64.49,58.85 L65.46,58.88 L66.43,58.91 L67.40,58.95 L68.37,58.99 L69.34,59.02 L70.31,59.06 L71.28,59.10 L72.25,59.13 L73.22,59.17 L74.19,59.21 L75.16,59.25 L76.13,59.29 L77.10,59.33 L78.07,59.37 L79.03,59.41 L80.00,59.45 L80.97,59.50 L81.94,59.54 L82.91,59.59 L83.88,59.63 L84.85,59.67 L85.82,59.72 L86.79,59.77 L87.76,59.81 L88.73,59.86 L89.70,59.91 L90.67,59.96 L91.64,60.01 L92.61,60.06 L93.57,60.11 L94.54,60.16 L95.51,60.22 L96.48,60.27 L97.45,60.32 L98.42,60.38 L99.39,60.43 L100.36,60.49 L101.33,60.55 L102.30,60.60 L103.27,60.66 L104.24,60.72 L105.21,60.78 L106.18,60.85 L107.15,60.91 L108.11,60.97 L109.08,61.03 L110.05,61.10 L111.02,61.16 L111.99,61.23 L112.96,61.30 L113.93,61.37 L114.90,61.44 L115.87,61.51 L116.84,61.58 L117.81,61.65 L118.78,61.72 L119.75,61.80 L120.72,61.87 L121.69,61.95 L122.65,62.03 L123.62,62.11 L124.59,62.19 L125.56,62.27 L126.53,62.35 L127.50,62.43 L128.47,62.52 L129.44,62.60 L130.41,62.69 L131.38,62.78 L132.35,62.87 L133.32,62.96 L134.29,63.05 L135.26,63.14 L136.23,63.24 L137.19,63.33 L138.16,63.43 L139.13,63.53 L140.10,63.63 L141.07,63.73 L142.04,63.83 L143.01,63.93 L143.98,64.04 L144.95,64.14 L145.92,64.25 L146.89,64.36 L147.86,64.47 L148.83,64.59 L149.80,64.70 L150.77,64.82 L151.73,64.93 L152.70,65.05 L153.67,65.17 L154.64,65.30 L155.61,65.42 L156.58,65.55 L157.55,65.68 L158.52,65.80 L159.49,65.94 L160.46,66.07 L161.43,66.20 L162.40,66.34 L163.37,66.48 L164.34,66.62 L165.31,66.76 L166.27,66.91 L167.24,67.06 L168.21,67.20 L169.18,67.36 L170.15,67.51 L171.12,67.66 L172.09,67.82 L173.06,67.98 L174.03,68.14 L175.00,68.31 L175.97,68.47 L176.94,68.64 L177.91,68.81 L178.88,68.99 L179.85,69.16 L180.81,69.34 L181.78,69.52 L182.75,69.70 L183.72,69.89 L184.69,70.08 L185.66,70.27 L186.63,70.46 L187.60,70.66 L188.57,70.86 L189.54,71.06 L190.51,71.26 L191.48,71.47 L192.45,71.68 L193.42,71.90 L194.39,72.11 L195.35,72.33 L196.32,72.55 L197.29,72.78 L198.26,73.01 L199.23,73.24 L200.20,73.48 L201.17,73.71 L202.14,73.96 L203.11,74.20 L204.08,74.45 L205.05,74.70 L206.02,74.96 L206.99,75.22 L207.96,75.48 L208.93,75.75 L209.89,76.02 L210.86,76.29 L211.83,76.57 L212.80,76.85 L213.77,77.13 L214.74,77.42 L215.71,77.72 L216.68,78.02 L217.65,78.32 L218.62,78.62 L219.59,78.93 L220.56,79.25 L221.53,79.57 L222.50,79.89 L223.47,80.22 L224.43,80.55 L225.40,80.89 L226.37,81.23 L227.34,81.58 L228.31,81.93 L229.28,82.29 L230.25,82.65 L231.22,83.01 L232.19,83.39 L233.16,83.76 L234.13,84.14 L235.10,84.53 L236.07,84.92 L237.04,85.32 L238.01,85.73 L238.97,86.14 L239.94,86.55 L240.91,86.97 L241.88,87.40 L242.85,87.83 L243.82,88.27 L244.79,88.72 L245.76,89.17 L246.73,89.62 L247.70,90.09 L248.67,90.56 L249.64,91.04 L250.61,91.52 L251.58,92.01 L252.55,92.51 L253.51,93.01 L254.48,93.52 L255.45,94.04 L256.42,94.57 L257.39,95.10 L258.36,95.64 L259.33,96.19 L260.30,96.74 L261.27,97.31 L262.24,97.88 L263.21,98.46 L264.18,99.04 L265.15,99.64 L266.12,100.24 L267.09,100.85 L268.05,101.47 L269.02,102.10 L269.99,102.74 L270.96,103.39 L271.93,104.04 L272.90,104.71 L273.87,105.38 L274.84,106.07 L275.81,106.76 L276.78,107.47 L277.75,108.18 L278.72,108.90 L279.69,109.63 L280.66,110.38 L281.63,111.13 L282.59,111.89 L283.56,112.67 L284.53,113.46 L285.50,114.25 L286.47,115.06 L287.44,115.88 L288.41,116.71 L289.38,117.55 L290.35,118.40 L291.32,119.27 L292.29,120.15 L293.26,121.04 L294.23,121.94 L295.20,122.86 L296.17,123.78 L297.13,124.72 L298.10,125.68 L299.07,126.64 L300.04,127.63 L301.01,128.62 L301.98,129.63 L302.95,130.65 L303.92,131.69 L304.89,132.74 L305.86,133.80 L306.83,134.88 L307.80,135.98 L308.77,137.09 L309.74,138.22 L310.71,139.36 L311.67,140.52 L312.64,141.69 L313.61,142.88 L314.58,144.09 L315.55,145.31 L316.52,146.56 L317.49,147.81 L318.46,149.09 L319.43,150.38 L320.40,151.70 L321.37,153.03 L322.34,154.38 L323.31,155.74 L324.28,157.13 L325.25,158.54 L326.21,159.96 L327.18,161.41 L328.15,162.87 L329.12,164.36 L330.09,165.87 L331.06,167.40 L332.03,168.95 L333.00,170.52" stroke="#ffff00" stroke-width="2.6" stroke-dasharray="17.85 7.95" stroke-dashoffset="0.9"/>
</g>
<g stroke="#333" stroke-width="1" fill="none">
<line x1="42.5" y1="48.80" x2="42.5" y2="223.10" stroke="#4a4a4a"/>
<line x1="42" y1="222.8" x2="333.30" y2="222.8" stroke="#5b5b5b"/>
</g>
<g fill="#000"><text x="42.20" y="231.90" font-size="7.80" textLength="4.45" lengthAdjust="spacingAndGlyphs" text-anchor="middle">1</text><text x="90.67" y="231.90" font-size="7.80" textLength="4.45" lengthAdjust="spacingAndGlyphs" text-anchor="middle">2</text><text x="139.13" y="231.90" font-size="7.80" textLength="4.45" lengthAdjust="spacingAndGlyphs" text-anchor="middle">4</text><text x="187.60" y="231.90" font-size="7.80" textLength="4.45" lengthAdjust="spacingAndGlyphs" text-anchor="middle">8</text><text x="236.07" y="231.90" font-size="7.80" textLength="8.91" lengthAdjust="spacingAndGlyphs" text-anchor="middle">16</text><text x="284.53" y="231.90" font-size="7.80" textLength="8.91" lengthAdjust="spacingAndGlyphs" text-anchor="middle">32</text><text x="333.00" y="231.90" font-size="7.80" textLength="8.91" lengthAdjust="spacingAndGlyphs" text-anchor="middle">64</text><text x="38.00" y="225.45" font-size="7.80" textLength="4.45" lengthAdjust="spacingAndGlyphs" text-anchor="end">1</text><text x="38.00" y="200.62" font-size="7.80" textLength="4.45" lengthAdjust="spacingAndGlyphs" text-anchor="end">2</text><text x="38.00" y="175.79" font-size="7.80" textLength="4.45" lengthAdjust="spacingAndGlyphs" text-anchor="end">4</text><text x="38.00" y="150.96" font-size="7.80" textLength="4.45" lengthAdjust="spacingAndGlyphs" text-anchor="end">8</text><text x="38.00" y="126.14" font-size="7.80" textLength="8.91" lengthAdjust="spacingAndGlyphs" text-anchor="end">16</text><text x="38.00" y="101.31" font-size="7.80" textLength="8.91" lengthAdjust="spacingAndGlyphs" text-anchor="end">32</text><text x="38.00" y="76.48" font-size="7.80" textLength="8.91" lengthAdjust="spacingAndGlyphs" text-anchor="end">64</text><text x="38.00" y="51.65" font-size="7.80" textLength="13.36" lengthAdjust="spacingAndGlyphs" text-anchor="end">128</text></g>
<rect x="52.50" y="109.40" width="94.00" height="107.60" fill="#fff" stroke="#333" stroke-width="1"/>
<g fill="#000"><line x1="55" y1="117.60" x2="74.5" y2="117.60" stroke="#6e2210" stroke-width="1.75" stroke-linecap="round"/><text x="77.20" y="120.45" font-size="8.15" textLength="21.72" lengthAdjust="spacingAndGlyphs">N = 1</text><line x1="55" y1="125.89" x2="74.5" y2="125.89" stroke="#a0442a" stroke-width="1.75" stroke-linecap="round"/><text x="77.20" y="128.74" font-size="8.15" textLength="21.72" lengthAdjust="spacingAndGlyphs">N = 2</text><line x1="55" y1="134.18" x2="74.5" y2="134.18" stroke="#dc7248" stroke-width="1.75" stroke-linecap="round"/><text x="77.20" y="137.03" font-size="8.15" textLength="21.72" lengthAdjust="spacingAndGlyphs">N = 4</text><line x1="55" y1="142.47" x2="74.5" y2="142.47" stroke="#f0a080" stroke-width="1.75" stroke-linecap="round"/><text x="77.20" y="145.32" font-size="8.15" textLength="21.72" lengthAdjust="spacingAndGlyphs">N = 8</text><line x1="55" y1="150.76" x2="74.5" y2="150.76" stroke="#f9cdb5" stroke-width="1.75" stroke-linecap="round"/><text x="77.20" y="153.61" font-size="8.15" textLength="26.56" lengthAdjust="spacingAndGlyphs">N = 16</text><line x1="55" y1="159.05" x2="74.5" y2="159.05" stroke="#f3eee8" stroke-width="1.75" stroke-linecap="round"/><text x="77.20" y="161.90" font-size="8.15" textLength="26.56" lengthAdjust="spacingAndGlyphs">N = 32</text><line x1="55" y1="167.35" x2="74.5" y2="167.35" stroke="#a9c8f0" stroke-width="1.75" stroke-linecap="round"/><text x="77.20" y="170.20" font-size="8.15" textLength="26.56" lengthAdjust="spacingAndGlyphs">N = 64</text><line x1="55" y1="175.64" x2="74.5" y2="175.64" stroke="#7aa6e6" stroke-width="1.75" stroke-linecap="round"/><text x="77.20" y="178.49" font-size="8.15" textLength="31.39" lengthAdjust="spacingAndGlyphs">N = 128</text><line x1="55" y1="183.93" x2="74.5" y2="183.93" stroke="#4a82d8" stroke-width="1.75" stroke-linecap="round"/><text x="77.20" y="186.78" font-size="8.15" textLength="31.39" lengthAdjust="spacingAndGlyphs">N = 256</text><line x1="55" y1="192.22" x2="74.5" y2="192.22" stroke="#2e5fb0" stroke-width="1.75" stroke-linecap="round"/><text x="77.20" y="195.07" font-size="8.15" textLength="31.39" lengthAdjust="spacingAndGlyphs">N = 512</text><line x1="55" y1="200.51" x2="74.5" y2="200.51" stroke="#1b3f80" stroke-width="1.75" stroke-linecap="round"/><text x="77.20" y="203.36" font-size="8.15" textLength="36.23" lengthAdjust="spacingAndGlyphs">N = 1024</text><line x1="55" y1="208.80" x2="73.8" y2="208.80" stroke="#ffff00" stroke-width="2.3" stroke-linecap="round"/><text x="78.10" y="211.65" font-size="8.15" textLength="66.57" lengthAdjust="spacingAndGlyphs">Approximate U.B.</text></g>
<text x="89.95" y="36.00" font-size="12.21" textLength="192.26" lengthAdjust="spacingAndGlyphs">Two-way quantum relay network</text>
<text x="59.75" y="48.50" font-size="12.21" textLength="254.37" lengthAdjust="spacingAndGlyphs">Multiplexed links per elem. segment = 256</text>
<text x="116.95" y="241.40" font-size="9.57" textLength="102.79" lengthAdjust="spacingAndGlyphs">Inter-repeater spacing</text>
<text class="s" x="222.9" y="240.9" font-size="10.2" font-family="Liberation Serif" font-style="italic">L</text>
<text class="s" x="229.3" y="243.5" font-size="6.6" font-family="Liberation Serif">0</text>
<text x="236.1" y="241.4" font-size="9.4" textLength="22.17" lengthAdjust="spacingAndGlyphs">(km)</text>
<g transform="translate(10.9,230.6) rotate(-90)"><text x="0.00" y="0.00" font-size="9.57" textLength="185.81" lengthAdjust="spacingAndGlyphs">Expected number of Bell pairs delivered</text></g>
<g transform="translate(21.0,159.5) rotate(-90)"><text x="0.00" y="0.00" font-size="9.63" textLength="51.26" lengthAdjust="spacingAndGlyphs">end-to-end</text></g></g>
<text class="s" x="-0.3" y="14.1" font-family="Liberation Serif" font-size="20.5">(a)</text>
<text class="s" x="347.0" y="14.1" font-family="Liberation Serif" font-size="20.5">(b)</text>
</svg></body></html>
